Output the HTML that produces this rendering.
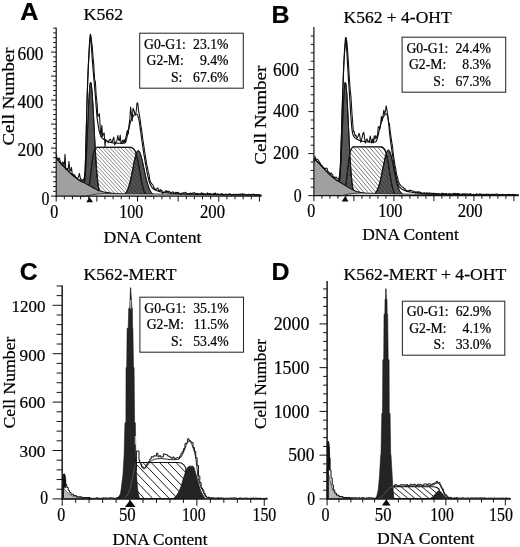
<!DOCTYPE html>
<html><head><meta charset="utf-8"><title>DNA content histograms</title>
<style>html,body{margin:0;padding:0;background:#fff;}svg{display:block;will-change:transform;}</style></head><body>
<svg width="520" height="547" viewBox="0 0 520 547">
<rect width="520" height="547" fill="#fff"/>
<defs>
</defs>
<path d="M70.6 195.6 L71.1 195.6 L71.6 195.6 L72.1 195.6 L72.6 195.6 L73.1 195.6 L73.6 195.6 L74.1 195.6 L74.6 195.6 L75.1 195.6 L75.6 195.6 L76.1 195.6 L76.6 195.6 L77.1 195.6 L77.6 195.6 L78.1 195.59 L78.6 195.58 L79.1 195.56 L79.6 195.51 L80.1 195.44 L80.6 195.3 L81.1 195.07 L81.6 194.68 L82.1 194.05 L82.6 193.07 L83.1 191.59 L83.6 189.44 L84.1 186.39 L84.6 182.25 L85.1 176.81 L85.6 169.93 L86.1 161.55 L86.6 151.76 L87.1 140.81 L87.6 129.13 L88.1 117.33 L88.6 106.12 L89.1 96.31 L89.6 88.65 L90.1 83.77 L90.6 82.1 L91.1 83.25 L91.6 86.64 L92.1 92.06 L92.6 99.2 L93.1 107.66 L93.6 116.99 L94.1 126.76 L94.6 136.53 L95.1 145.94 L95.6 154.69 L96.1 162.58 L96.6 169.49 L97.1 175.37 L97.6 180.24 L98.1 184.17 L98.6 187.27 L99.1 189.65 L99.6 191.44 L100.1 192.75 L100.6 193.68 L101.1 194.34 L101.6 194.79 L102.1 195.09 L102.6 195.28 L103.1 195.41 L103.6 195.49 L104.1 195.53 L104.6 195.56 L105.1 195.58 L105.6 195.59 L106.1 195.59 L106.6 195.6 L107.1 195.6 L107.6 195.6 L108.1 195.6 L108.6 195.6 L109.1 195.6 L109.6 195.6 L110.1 195.6 L110.6 195.6 L110.6 195.6 L70.6 195.6 Z" fill="#525252" stroke="#161616" stroke-width="1" stroke-linejoin="round"/>
<path d="M118.2 195.56 L118.7 195.55 L119.2 195.53 L119.7 195.5 L120.2 195.46 L120.7 195.41 L121.2 195.34 L121.7 195.25 L122.2 195.13 L122.7 194.97 L123.2 194.78 L123.7 194.53 L124.2 194.23 L124.7 193.84 L125.2 193.38 L125.7 192.81 L126.2 192.13 L126.7 191.33 L127.2 190.38 L127.7 189.28 L128.2 188.01 L128.7 186.57 L129.2 184.96 L129.7 183.16 L130.2 181.2 L130.7 179.07 L131.2 176.79 L131.7 174.39 L132.2 171.89 L132.7 169.34 L133.2 166.76 L133.7 164.22 L134.2 161.75 L134.7 159.42 L135.2 157.26 L135.7 155.34 L136.2 153.69 L136.7 152.37 L137.2 151.39 L137.7 150.8 L138.2 150.6 L138.7 150.77 L139.2 151.29 L139.7 152.13 L140.2 153.29 L140.7 154.73 L141.2 156.42 L141.7 158.33 L142.2 160.42 L142.7 162.65 L143.2 164.97 L143.7 167.35 L144.2 169.74 L144.7 172.11 L145.2 174.43 L145.7 176.67 L146.2 178.79 L146.7 180.8 L147.2 182.66 L147.7 184.38 L148.2 185.94 L148.7 187.35 L149.2 188.61 L149.7 189.72 L150.2 190.69 L150.7 191.54 L151.2 192.26 L151.7 192.88 L152.2 193.4 L152.7 193.83 L153.2 194.19 L153.7 194.48 L154.2 194.72 L154.7 194.92 L155.2 195.07 L155.7 195.2 L156.2 195.29 L156.7 195.37 L157.2 195.43 L157.7 195.47 L158.2 195.5 L158.2 195.6 L118.2 195.6 Z" fill="#525252" stroke="#161616" stroke-width="1" stroke-linejoin="round"/>
<path d="M81 196.1 L81.5 196.1 L82 196.1 L82.5 196.1 L83 196.09 L83.5 196.08 L84 196.06 L84.5 196.02 L85 195.94 L85.5 195.8 L86 195.54 L86.5 195.11 L87 194.42 L87.5 193.39 L88 191.9 L88.5 189.88 L89 187.27 L89.5 184.06 L90 180.32 L90.5 176.17 L91 171.8 L91.5 167.43 L92 163.28 L92.5 159.54 L93 156.33 L93.5 153.72 L94 151.7 L94.5 150.21 L95 149.18 L95.5 148.49 L96 148.06 L96.5 147.8 L97 147.66 L97.5 147.58 L98 147.54 L98.5 147.52 L99 147.51 L99.5 147.5 L100 147.5 L100.5 147.5 L101 147.5 L101.5 147.5 L102 147.5 L102.5 147.5 L103 147.5 L103.5 147.5 L104 147.5 L104.5 147.5 L105 147.5 L105.5 147.5 L106 147.5 L106.5 147.5 L107 147.5 L107.5 147.5 L108 147.5 L108.5 147.5 L109 147.5 L109.5 147.5 L110 147.5 L110.5 147.5 L111 147.5 L111.5 147.5 L112 147.5 L112.5 147.5 L113 147.5 L113.5 147.5 L114 147.5 L114.5 147.5 L115 147.5 L115.5 147.5 L116 147.5 L116.5 147.5 L117 147.5 L117.5 147.5 L118 147.5 L118.5 147.5 L119 147.5 L119.5 147.5 L120 147.5 L120.5 147.5 L121 147.5 L121.5 147.5 L122 147.5 L122.5 147.5 L123 147.5 L123.5 147.5 L124 147.5 L124.5 147.5 L125 147.5 L125.5 147.5 L126 147.5 L126.5 147.5 L127 147.5 L127.5 147.5 L128 147.51 L128.5 147.51 L129 147.53 L129.5 147.54 L130 147.57 L130.5 147.62 L131 147.69 L131.5 147.79 L132 147.94 L132.5 148.16 L133 148.46 L133.5 148.87 L134 149.42 L134.5 150.13 L135 151.04 L135.5 152.18 L136 153.56 L136.5 155.21 L137 157.13 L137.5 159.31 L138 161.73 L138.5 164.36 L139 167.15 L139.5 170.04 L140 172.97 L140.5 175.88 L141 178.7 L141.5 181.36 L142 183.83 L142.5 186.06 L143 188.03 L143.5 189.73 L144 191.16 L144.5 192.35 L145 193.3 L145.5 194.06 L146 194.64 L146.5 195.07 L147 195.39 L147.5 195.62 L148 195.79 L148.5 195.9 L149 195.97 L149.5 196.02 L150 196.05 L150.5 196.07 L151 196.08 L151.5 196.09 L151.5 196.09 L151 196.08 L150.5 196.07 L150 196.05 L149.5 196.02 L149 195.97 L148.5 195.9 L148 195.79 L147.5 195.62 L147 195.39 L146.5 195.07 L146 194.64 L145.5 194.06 L145 193.3 L144.5 192.35 L144 191.16 L143.5 189.73 L143 188.03 L142.5 186.06 L142 183.83 L141.5 181.36 L141 178.7 L140.5 175.88 L140 172.97 L139.5 170.04 L139 167.15 L138.5 164.36 L138 161.73 L137.5 159.31 L137 157.13 L136.5 155.21 L136 154.81 L135.5 156.58 L135 158.6 L134.5 160.83 L134 163.23 L133.5 165.73 L133 168.29 L132.5 170.86 L132 173.4 L131.5 175.86 L131 178.22 L130.5 180.44 L130 182.5 L129.5 184.4 L129 186.13 L128.5 187.67 L128 189.04 L127.5 190.24 L127 191.27 L126.5 192.16 L126 192.92 L125.5 193.55 L125 194.08 L124.5 194.51 L124 194.6 L123.5 194.6 L123 194.6 L122.5 194.6 L122 194.6 L121.5 194.6 L121 194.6 L120.5 194.6 L120 194.6 L119.5 194.6 L119 194.6 L118.5 194.6 L118 194.6 L117.5 194.6 L117 194.6 L116.5 194.6 L116 194.6 L115.5 194.6 L115 194.6 L114.5 194.6 L114 194.6 L113.5 194.6 L113 194.6 L112.5 194.6 L112 194.6 L111.5 194.6 L111 194.6 L110.5 194.6 L110 194.6 L109.5 194.6 L109 194.6 L108.5 194.6 L108 194.6 L107.5 194.6 L107 194.6 L106.5 194.6 L106 194.6 L105.5 194.6 L105 194.6 L104.5 194.6 L104 194.6 L103.5 194.6 L103 194.6 L102.5 194.6 L102 194.6 L101.5 194.6 L101 194.6 L100.5 194.02 L100 193.02 L99.5 191.62 L99 189.73 L98.5 187.21 L98 183.96 L97.5 179.84 L97 174.77 L96.5 168.69 L96 161.58 L95.5 153.5 L95 149.18 L94.5 150.21 L94 151.7 L93.5 153.72 L93 156.33 L92.5 159.54 L92 163.28 L91.5 167.43 L91 171.8 L90.5 176.17 L90 180.32 L89.5 184.06 L89 187.27 L88.5 189.88 L88 191.9 L87.5 193.39 L87 194.42 L86.5 195.11 L86 195.54 L85.5 195.8 L85 195.94 L84.5 196.02 L84 196.06 L83.5 196.08 L83 196.09 L82.5 196.1 L82 196.1 L81.5 196.1 L81 196.1 Z" fill="#fff" stroke="#111" stroke-width="1.15" stroke-linejoin="round"/>
<clipPath id="cp1"><path d="M81 195.6 L81.5 195.6 L82 195.6 L82.5 195.6 L83 195.59 L83.5 195.58 L84 195.56 L84.5 195.52 L85 195.44 L85.5 195.3 L86 195.04 L86.5 194.61 L87 193.92 L87.5 192.89 L88 191.4 L88.5 189.38 L89 186.77 L89.5 183.56 L90 179.82 L90.5 175.67 L91 171.3 L91.5 166.93 L92 162.78 L92.5 159.04 L93 155.83 L93.5 153.22 L94 151.2 L94.5 149.71 L95 148.68 L95.5 147.99 L96 147.56 L96.5 147.3 L97 147.16 L97.5 147.08 L98 147.04 L98.5 147.02 L99 147.01 L99.5 147 L100 147 L100.5 147 L101 147 L101.5 147 L102 147 L102.5 147 L103 147 L103.5 147 L104 147 L104.5 147 L105 147 L105.5 147 L106 147 L106.5 147 L107 147 L107.5 147 L108 147 L108.5 147 L109 147 L109.5 147 L110 147 L110.5 147 L111 147 L111.5 147 L112 147 L112.5 147 L113 147 L113.5 147 L114 147 L114.5 147 L115 147 L115.5 147 L116 147 L116.5 147 L117 147 L117.5 147 L118 147 L118.5 147 L119 147 L119.5 147 L120 147 L120.5 147 L121 147 L121.5 147 L122 147 L122.5 147 L123 147 L123.5 147 L124 147 L124.5 147 L125 147 L125.5 147 L126 147 L126.5 147 L127 147 L127.5 147 L128 147.01 L128.5 147.01 L129 147.03 L129.5 147.04 L130 147.07 L130.5 147.12 L131 147.19 L131.5 147.29 L132 147.44 L132.5 147.66 L133 147.96 L133.5 148.37 L134 148.92 L134.5 149.63 L135 150.54 L135.5 151.68 L136 153.06 L136.5 154.71 L137 156.63 L137.5 158.81 L138 161.23 L138.5 163.86 L139 166.65 L139.5 169.54 L140 172.47 L140.5 175.38 L141 178.2 L141.5 180.86 L142 183.33 L142.5 185.56 L143 187.53 L143.5 189.23 L144 190.66 L144.5 191.85 L145 192.8 L145.5 193.56 L146 194.14 L146.5 194.57 L147 194.89 L147.5 195.12 L148 195.29 L148.5 195.4 L149 195.47 L149.5 195.52 L150 195.55 L150.5 195.57 L151 195.58 L151.5 195.59 L151.5 195.6 L81 195.6 Z"/></clipPath>
<path d="M118.13 108.3L179.19 174.7M116.12 110.15L177.18 176.54M114.11 112L175.17 178.39M112.1 113.84L173.16 180.24M110.09 115.69L171.15 182.09M108.08 117.54L169.14 183.94M106.07 119.39L167.13 185.78M104.06 121.24L165.12 187.63M102.06 123.08L163.11 189.48M100.05 124.93L161.1 191.33M98.04 126.78L159.09 193.18M96.03 128.63L157.08 195.02M94.02 130.48L155.07 196.87M92.01 132.32L153.06 198.72M90 134.17L151.05 200.57M87.99 136.02L149.04 202.41M85.98 137.87L147.03 204.26M83.97 139.71L145.02 206.11M81.96 141.56L143.01 207.96M79.95 143.41L141 209.81M77.94 145.26L138.99 211.65M75.93 147.11L136.99 213.5M73.92 148.95L134.98 215.35M71.91 150.8L132.97 217.2M69.9 152.65L130.96 219.05M67.89 154.5L128.95 220.89M65.88 156.35L126.94 222.74M63.87 158.19L124.93 224.59M61.86 160.04L122.92 226.44M59.85 161.89L120.91 228.28M57.85 163.74L118.9 230.13M55.84 165.58L116.89 231.98" clip-path="url(#cp1)" stroke="#262626" stroke-width="0.56" fill="none"/>
<path d="M81 195.6 L81.5 195.6 L82 195.6 L82.5 195.6 L83 195.59 L83.5 195.58 L84 195.56 L84.5 195.52 L85 195.44 L85.5 195.3 L86 195.04 L86.5 194.61 L87 193.92 L87.5 192.89 L88 191.4 L88.5 189.38 L89 186.77 L89.5 183.56 L90 179.82 L90.5 175.67 L91 171.3 L91.5 166.93 L92 162.78 L92.5 159.04 L93 155.83 L93.5 153.22 L94 151.2 L94.5 149.71 L95 148.68 L95.5 147.99 L96 147.56 L96.5 147.3 L97 147.16 L97.5 147.08 L98 147.04 L98.5 147.02 L99 147.01 L99.5 147 L100 147 L100.5 147 L101 147 L101.5 147 L102 147 L102.5 147 L103 147 L103.5 147 L104 147 L104.5 147 L105 147 L105.5 147 L106 147 L106.5 147 L107 147 L107.5 147 L108 147 L108.5 147 L109 147 L109.5 147 L110 147 L110.5 147 L111 147 L111.5 147 L112 147 L112.5 147 L113 147 L113.5 147 L114 147 L114.5 147 L115 147 L115.5 147 L116 147 L116.5 147 L117 147 L117.5 147 L118 147 L118.5 147 L119 147 L119.5 147 L120 147 L120.5 147 L121 147 L121.5 147 L122 147 L122.5 147 L123 147 L123.5 147 L124 147 L124.5 147 L125 147 L125.5 147 L126 147 L126.5 147 L127 147 L127.5 147 L128 147.01 L128.5 147.01 L129 147.03 L129.5 147.04 L130 147.07 L130.5 147.12 L131 147.19 L131.5 147.29 L132 147.44 L132.5 147.66 L133 147.96 L133.5 148.37 L134 148.92 L134.5 149.63 L135 150.54 L135.5 151.68 L136 153.06 L136.5 154.71 L137 156.63 L137.5 158.81 L138 161.23 L138.5 163.86 L139 166.65 L139.5 169.54 L140 172.47 L140.5 175.38 L141 178.2 L141.5 180.86 L142 183.33 L142.5 185.56 L143 187.53 L143.5 189.23 L144 190.66 L144.5 191.85 L145 192.8 L145.5 193.56 L146 194.14 L146.5 194.57 L147 194.89 L147.5 195.12 L148 195.29 L148.5 195.4 L149 195.47 L149.5 195.52 L150 195.55 L150.5 195.57 L151 195.58 L151.5 195.59 L151.5 195.6 L81 195.6 Z" fill="none" stroke="#1c1c1c" stroke-width="0.9"/>
<path d="M70.6 195.6 L71.1 195.6 L71.6 195.6 L72.1 195.6 L72.6 195.6 L73.1 195.6 L73.6 195.6 L74.1 195.6 L74.6 195.6 L75.1 195.6 L75.6 195.6 L76.1 195.6 L76.6 195.6 L77.1 195.6 L77.6 195.6 L78.1 195.59 L78.6 195.58 L79.1 195.56 L79.6 195.51 L80.1 195.44 L80.6 195.3 L81.1 195.07 L81.6 194.68 L82.1 194.05 L82.6 193.07 L83.1 191.59 L83.6 189.44 L84.1 186.39 L84.6 182.25 L85.1 176.81 L85.6 169.93 L86.1 161.55 L86.6 151.76 L87.1 140.81 L87.6 129.13 L88.1 117.33 L88.6 106.12 L89.1 96.31 L89.6 88.65 L90.1 83.77 L90.6 82.1 L91.1 83.25 L91.6 86.64 L92.1 92.06 L92.6 99.2 L93.1 107.66 L93.6 116.99 L94.1 126.76 L94.6 136.53 L95.1 145.94 L95.6 154.69 L96.1 162.58 L96.6 169.49 L97.1 175.37 L97.6 180.24 L98.1 184.17 L98.6 187.27 L99.1 189.65 L99.6 191.44 L100.1 192.75 L100.6 193.68 L101.1 194.34 L101.6 194.79 L102.1 195.09 L102.6 195.28 L103.1 195.41 L103.6 195.49 L104.1 195.53 L104.6 195.56 L105.1 195.58 L105.6 195.59 L106.1 195.59 L106.6 195.6 L107.1 195.6 L107.6 195.6 L108.1 195.6 L108.6 195.6 L109.1 195.6 L109.6 195.6 L110.1 195.6 L110.6 195.6" fill="none" stroke="#161616" stroke-width="1"/>
<path d="M118.2 195.56 L118.7 195.55 L119.2 195.53 L119.7 195.5 L120.2 195.46 L120.7 195.41 L121.2 195.34 L121.7 195.25 L122.2 195.13 L122.7 194.97 L123.2 194.78 L123.7 194.53 L124.2 194.23 L124.7 193.84 L125.2 193.38 L125.7 192.81 L126.2 192.13 L126.7 191.33 L127.2 190.38 L127.7 189.28 L128.2 188.01 L128.7 186.57 L129.2 184.96 L129.7 183.16 L130.2 181.2 L130.7 179.07 L131.2 176.79 L131.7 174.39 L132.2 171.89 L132.7 169.34 L133.2 166.76 L133.7 164.22 L134.2 161.75 L134.7 159.42 L135.2 157.26 L135.7 155.34 L136.2 153.69 L136.7 152.37 L137.2 151.39 L137.7 150.8 L138.2 150.6 L138.7 150.77 L139.2 151.29 L139.7 152.13 L140.2 153.29 L140.7 154.73 L141.2 156.42 L141.7 158.33 L142.2 160.42 L142.7 162.65 L143.2 164.97 L143.7 167.35 L144.2 169.74 L144.7 172.11 L145.2 174.43 L145.7 176.67 L146.2 178.79 L146.7 180.8 L147.2 182.66 L147.7 184.38 L148.2 185.94 L148.7 187.35 L149.2 188.61 L149.7 189.72 L150.2 190.69 L150.7 191.54 L151.2 192.26 L151.7 192.88 L152.2 193.4 L152.7 193.83 L153.2 194.19 L153.7 194.48 L154.2 194.72 L154.7 194.92 L155.2 195.07 L155.7 195.2 L156.2 195.29 L156.7 195.37 L157.2 195.43 L157.7 195.47 L158.2 195.5" fill="none" stroke="#161616" stroke-width="1"/>
<path d="M56.2 157.5 L57.2 158.77 L58.2 160.04 L59.2 161.31 L60.2 162.58 L61.2 163.8 L62.2 164.8 L63.2 165.8 L64.2 166.8 L65.2 167.8 L66.2 168.8 L67.2 169.8 L68.2 170.8 L69.2 171.8 L70.2 172.8 L71.2 173.8 L72.2 174.74 L73.2 175.54 L74.2 176.34 L75.2 177.14 L76.2 177.94 L77.2 178.74 L78.2 179.38 L79.2 179.98 L80.2 180.58 L81.2 181.18 L82.2 181.78 L83.2 182.35 L84.2 182.86 L85.2 183.37 L86.2 183.88 L87.2 184.39 L88.2 184.9 L89.2 185.47 L90.2 186.05 L91.2 186.63 L92.2 187.21 L93.2 187.79 L94.2 188.35 L95.2 188.87 L96.2 189.38 L97.2 189.89 L98.2 190.4 L99.2 190.68 L100.2 190.95 L101.2 191.23 L102.2 191.5 L103.2 191.78 L104.2 192.03 L105.2 192.19 L106.2 192.35 L107.2 192.5 L108.2 192.66 L109.2 192.82 L110.2 192.97 L111.2 193.12 L112.2 193.22 L113.2 193.32 L114.2 193.42 L115.2 193.52 L116.2 193.62 L117.2 193.72 L118.2 193.81 L119.2 193.89 L120.2 193.96 L121.2 194.03 L122.2 194.1 L123.2 194.17 L124.2 194.24 L125.2 194.32 L126.2 194.42 L127.2 194.52 L128.2 194.62 L129.2 194.72 L130.2 194.82 L131.2 194.92 L132.2 195.03 L133.2 195.16 L134.2 195.3 L135.2 195.44 L136.2 195.58 L137.2 195.72 L138.2 195.85 L139.2 195.99 L139.2 196.1 L56.2 196.1 Z" fill="#a0a0a0" stroke="none"/>
<path d="M56.2 157.5 L57.2 158.77 L58.2 160.04 L59.2 161.31 L60.2 162.58 L61.2 163.8 L62.2 164.8 L63.2 165.8 L64.2 166.8 L65.2 167.8 L66.2 168.8 L67.2 169.8 L68.2 170.8 L69.2 171.8 L70.2 172.8 L71.2 173.8 L72.2 174.74 L73.2 175.54 L74.2 176.34 L75.2 177.14 L76.2 177.94 L77.2 178.74 L78.2 179.38 L79.2 179.98 L80.2 180.58 L81.2 181.18 L82.2 181.78 L83.2 182.35 L84.2 182.86 L85.2 183.37 L86.2 183.88 L87.2 184.39 L88.2 184.9 L89.2 185.47 L90.2 186.05 L91.2 186.63 L92.2 187.21 L93.2 187.79 L94.2 188.35 L95.2 188.87 L96.2 189.38 L97.2 189.89 L98.2 190.4 L99.2 190.68 L100.2 190.95 L101.2 191.23 L102.2 191.5 L103.2 191.78 L104.2 192.03 L105.2 192.19 L106.2 192.35 L107.2 192.5 L108.2 192.66 L109.2 192.82 L110.2 192.97 L111.2 193.12 L112.2 193.22 L113.2 193.32 L114.2 193.42 L115.2 193.52 L116.2 193.62 L117.2 193.72 L118.2 193.81 L119.2 193.89 L120.2 193.96 L121.2 194.03 L122.2 194.1 L123.2 194.17 L124.2 194.24 L125.2 194.32 L126.2 194.42 L127.2 194.52 L128.2 194.62 L129.2 194.72 L130.2 194.82 L131.2 194.92 L132.2 195.03 L133.2 195.16 L134.2 195.3 L135.2 195.44 L136.2 195.58 L137.2 195.72 L138.2 195.85 L139.2 195.99" fill="none" stroke="#111" stroke-width="1.1"/>
<path d="M86 196.1 L87 195.93 L88 195.77 L89 195.6 L90 195.35 L91 195.1 L92 194.85 L93 194.6 L94 194.46 L95 194.32 L96 194.18 L97 194.04 L98 193.9 L99 193.85 L100 193.8 L101 193.75 L102 193.7 L103 193.65 L104 193.6 L105 193.61 L106 193.62 L107 193.63 L108 193.64 L109 193.65 L110 193.66 L111 193.67 L112 193.68 L113 193.69 L114 193.7 L115 193.7 L116 193.71 L117 193.72 L118 193.73 L119 193.74 L120 193.75 L121 193.76 L122 193.77 L123 193.78 L124 193.79 L125 193.8 L126 193.81 L127 193.81 L128 193.82 L129 193.82 L130 193.83 L131 193.83 L132 193.84 L133 193.85 L134 193.85 L135 193.86 L136 193.86 L137 193.87 L138 193.87 L139 193.88 L140 193.89 L141 193.89 L142 193.9 L143 193.9 L144 193.91 L145 193.91 L146 193.92 L147 193.93 L148 193.93 L149 193.94 L150 193.94 L151 193.95 L152 193.95 L153 193.96 L154 193.97 L155 193.97 L156 193.98 L157 193.98 L158 193.99 L159 193.99 L160 194 L161 194.01 L162 194.03 L163 194.04 L164 194.06 L165 194.07 L166 194.09 L167 194.1 L168 194.12 L169 194.13 L170 194.15 L171 194.16 L172 194.18 L173 194.19 L174 194.21 L175 194.22 L176 194.24 L177 194.25 L178 194.27 L179 194.28 L180 194.3 L181 194.31 L182 194.33 L183 194.34 L184 194.36 L185 194.38 L186 194.39 L187 194.41 L188 194.42 L189 194.44 L190 194.45 L191 194.47 L192 194.48 L193 194.5 L194 194.51 L195 194.53 L196 194.54 L197 194.56 L198 194.57 L199 194.59 L200 194.6 L201 194.61 L202 194.62 L203 194.63 L204 194.64 L205 194.65 L206 194.66 L207 194.67 L208 194.68 L209 194.69 L210 194.7 L211 194.71 L212 194.72 L213 194.73 L214 194.74 L215 194.75 L216 194.75 L217 194.76 L218 194.77 L219 194.78 L220 194.79 L221 194.8 L222 194.81 L223 194.82 L224 194.83 L225 194.84 L226 194.85 L227 194.86 L228 194.87 L229 194.88 L230 194.89 L231 194.9 L232 194.91 L233 194.92 L234 194.93 L235 194.94 L236 194.95 L237 194.96 L238 194.97 L239 194.98 L240 194.99 L241 195 L242 195.01 L243 195.02 L244 195.03 L245 195.04 L246 195.05 L247 195.05 L248 195.06 L249 195.07 L250 195.08 L251 195.09 L252 195.1 L253 195.11 L254 195.12 L255 195.13 L256 195.14 L257 195.15 L258 195.16 L259 195.17 L260 195.18 L261 195.19 L262 195.2 L262 196.1 L86 196.1 Z" fill="#d4d4d4" stroke="none"/>
<path d="M86 196.1 L87 195.93 L88 195.77 L89 195.6 L90 195.35 L91 195.1 L92 194.85 L93 194.6 L94 194.46 L95 194.32 L96 194.18 L97 194.04 L98 193.9 L99 193.85 L100 193.8 L101 193.75 L102 193.7 L103 193.65 L104 193.6 L105 193.61 L106 193.62 L107 193.63 L108 193.64 L109 193.65 L110 193.66 L111 193.67 L112 193.68 L113 193.69 L114 193.7 L115 193.7 L116 193.71 L117 193.72 L118 193.73 L119 193.74 L120 193.75 L121 193.76 L122 193.77 L123 193.78 L124 193.79 L125 193.8 L126 193.81 L127 193.81 L128 193.82 L129 193.82 L130 193.83 L131 193.83 L132 193.84 L133 193.85 L134 193.85 L135 193.86 L136 193.86 L137 193.87 L138 193.87 L139 193.88 L140 193.89 L141 193.89 L142 193.9 L143 193.9 L144 193.91 L145 193.91 L146 193.92 L147 193.93 L148 193.93 L149 193.94 L150 193.94 L151 193.95 L152 193.95 L153 193.96 L154 193.97 L155 193.97 L156 193.98 L157 193.98 L158 193.99 L159 193.99 L160 194 L161 194.01 L162 194.03 L163 194.04 L164 194.06 L165 194.07 L166 194.09 L167 194.1 L168 194.12 L169 194.13 L170 194.15 L171 194.16 L172 194.18 L173 194.19 L174 194.21 L175 194.22 L176 194.24 L177 194.25 L178 194.27 L179 194.28 L180 194.3 L181 194.31 L182 194.33 L183 194.34 L184 194.36 L185 194.38 L186 194.39 L187 194.41 L188 194.42 L189 194.44 L190 194.45 L191 194.47 L192 194.48 L193 194.5 L194 194.51 L195 194.53 L196 194.54 L197 194.56 L198 194.57 L199 194.59 L200 194.6 L201 194.61 L202 194.62 L203 194.63 L204 194.64 L205 194.65 L206 194.66 L207 194.67 L208 194.68 L209 194.69 L210 194.7 L211 194.71 L212 194.72 L213 194.73 L214 194.74 L215 194.75 L216 194.75 L217 194.76 L218 194.77 L219 194.78 L220 194.79 L221 194.8 L222 194.81 L223 194.82 L224 194.83 L225 194.84 L226 194.85 L227 194.86 L228 194.87 L229 194.88 L230 194.89 L231 194.9 L232 194.91 L233 194.92 L234 194.93 L235 194.94 L236 194.95 L237 194.96 L238 194.97 L239 194.98 L240 194.99 L241 195 L242 195.01 L243 195.02 L244 195.03 L245 195.04 L246 195.05 L247 195.05 L248 195.06 L249 195.07 L250 195.08 L251 195.09 L252 195.1 L253 195.11 L254 195.12 L255 195.13 L256 195.14 L257 195.15 L258 195.16 L259 195.17 L260 195.18 L261 195.19 L262 195.2" fill="none" stroke="#222" stroke-width="0.8"/>
<path d="M56.2 157.5 C57 158.52 59.3 161.68 61 163.6 C62.7 165.52 64.58 167.18 66.4 169 C68.22 170.82 70.07 172.85 71.9 174.5 C73.73 176.15 75.72 177.7 77.4 178.9 C79.08 180.1 80.9 181.52 82 181.7 C83.1 181.88 83.47 181.95 84 180 C84.53 178.05 84.82 178.33 85.2 170 C85.58 161.67 85.97 142.5 86.3 130 C86.63 117.5 86.82 106.67 87.2 95 C87.58 83.33 88.08 70.08 88.6 60 C89.12 49.92 89.8 36.17 90.3 34.5 C90.8 32.83 91.15 44.25 91.6 50 C92.05 55.75 92.6 64 93 69 C93.4 74 93.58 75.17 94 80 C94.42 84.83 95 91.9 95.5 98 C96 104.1 96.58 112.27 97 116.6 C97.42 120.93 97.63 121.57 98 124 C98.37 126.43 98.78 129.37 99.2 131.2 C99.62 133.03 100.02 133.9 100.5 135 C100.98 136.1 101.52 137.05 102.1 137.8 C102.68 138.55 103.27 139 104 139.5 C104.73 140 105.23 140.25 106.5 140.8 C107.77 141.35 109.68 142.4 111.6 142.8 C113.52 143.2 115.8 143.17 118 143.2 C120.2 143.23 123.38 143.7 124.8 143 C126.22 142.3 126.02 140.47 126.5 139 C126.98 137.53 127.13 136.7 127.7 134.2 C128.27 131.7 129.27 126.45 129.9 124 C130.53 121.55 130.97 120.75 131.5 119.5 C132.03 118.25 132.43 117.37 133.1 116.5 C133.77 115.63 134.82 114.63 135.5 114.3 C136.18 113.97 136.65 113.72 137.2 114.5 C137.75 115.28 138.23 116.25 138.8 119 C139.37 121.75 139.85 125.77 140.6 131 C141.35 136.23 142.28 143.82 143.3 150.4 C144.32 156.98 145.78 165.57 146.7 170.5 C147.62 175.43 148.17 177.58 148.8 180 C149.43 182.42 149.77 183.53 150.5 185 C151.23 186.47 152.07 187.83 153.2 188.8 C154.33 189.77 155.78 190.22 157.3 190.8 C158.82 191.38 160.12 191.92 162.3 192.3 C164.48 192.68 167.45 192.87 170.4 193.1 C173.35 193.33 171.73 193.45 180 193.7 C188.27 193.95 206.5 194.37 220 194.6 C233.5 194.83 254.17 195.02 261 195.1" fill="none" stroke="#0e0e0e" stroke-width="1.15" stroke-linejoin="round"/>
<path d="M56.2 153.94 L57 157.91 L57.8 160.03 L58.6 158.35 L59.4 157.96 L60.2 161.19 L61 163.13 L61.8 164.96 L62.6 161.92 L63.4 162.62 L64.2 166.67 L65 154.3 L65.8 169.54 L66.6 169.46 L67.4 168.59 L68.2 169.14 L69 161.4 L69.8 170.74 L70.6 170.85 L71.4 167.4 L72.2 173.64 L73 174.35 L73.8 174.34 L74.6 175.36 L75.4 176.43 L76.2 177.6 L77 178.73 L77.8 178.19 L78.6 176.27 L79.4 173.4 L80.2 177.8 L81 179.99 L81.8 179.25 L82.6 180.77 L83.4 179.8 L84.2 178.43 L85 172.21 L85.8 148.17 L86.6 118.58 L87.4 89.55 L88.2 69.89 L89 54.26 L89.8 41.96 L90.6 35.01 L91.4 40.15 L92.2 45.85 L93 56.17 L93.8 64.92 L94.6 79.34 L95.4 81.66 L96.2 95.69 L97 102.28 L97.8 116.44 L98.6 115.7 L99.4 113.7 L100.2 127.89 L101 136.85 L101.8 125.4 L102.6 136.37 L103.4 133.84 L104.2 133.04 L105 146.46 L105.8 139.4 L106.6 141.06 L107.4 141.36 L108.2 142.75 L109 140.26 L109.8 139.33 L110.6 139.35 L111.4 142.11 L112.2 142.11 L113 139.16 L113.8 137.16 L114.6 144.83 L115.4 143.45 L116.2 141.46 L117 140.54 L117.8 135.6 L118.6 139.89 L119.4 140.64 L120.2 134.95 L121 143.64 L121.8 142.76 L122.6 140.26 L123.4 142.41 L124.2 139.61 L125 142.74 L125.8 137.8 L126.6 133.58 L127.4 130.25 L128.2 133.9 L129 125.19 L129.8 119.82 L130.6 107.1 L131.4 114.13 L132.2 120.92 L133 108.17 L133.8 110 L134.6 112.64 L135.4 114.96 L136.2 111.41 L137 103 L137.8 102.93 L138.6 110.83 L139.4 114.79 L140.2 119.99 L141 126.47 L141.8 130.76 L142.6 137.98 L143.4 142.88 L144.2 148.21 L145 153.48 L145.8 158.55 L146.6 163.69 L147.4 167.27 L148.2 171.43 L149 174.29 L149.8 179.84 L150.6 182.14 L151.4 183.44 L152.2 184.42 L153 185.14 L153.8 187.46 L154.6 188.05 L155.4 190.1 L156.2 189.03 L157 188.7 L157.8 187.88 L158.6 191.07 L159.4 190.47 L160.2 189.51 L161 191.03 L161.8 190.12 L162.6 193.64 L163.4 192.23 L164.2 191.99 L165 191.63 L165.8 190.53 L166.6 191.89 L167.4 191.15 L168.2 192.56 L169 191.05 L169.8 191.9 L170.6 193.22 L171.4 193.51 L172.2 191.95 L173 191.81 L173.8 193.22 L174.6 193.25 L175.4 192.29 L176.2 192.5 L177 192.56 L177.8 192.35 L178.6 192.68 L179.4 193.75 L180.2 193.5 L181 194.23 L181.8 193.13 L182.6 193.13 L183.4 192.71 L184.2 193.18 L185 192.59 L185.8 192.37 L186.6 193.66 L187.4 194.06 L188.2 193.77 L189 194.04 L189.8 193.51 L190.6 193.05 L191.4 193.47 L192.2 193.26 L193 192.92 L193.8 192.65 L194.6 192.78 L195.4 193.53 L196.2 193.62 L197 193.34 L197.8 194.29 L198.6 193.7 L199.4 193.91 L200.2 194.24 L201 193.28 L201.8 192.76 L202.6 194.07 L203.4 193.41 L204.2 194.37 L205 193.94 L205.8 194.27 L206.6 194.17 L207.4 192.88 L208.2 194.19 L209 193.57 L209.8 193.56 L210.6 193.72 L211.4 194.29 L212.2 194.36 L213 194.44 L213.8 193.27 L214.6 193.76 L215.4 193 L216.2 194.02 L217 194.35 L217.8 193.78 L218.6 194.23 L219.4 194.25 L220.2 194.6 L221 193.83 L221.8 193.84 L222.6 193.88 L223.4 194.96 L224.2 194.69 L225 194.19 L225.8 194.35 L226.6 194.32 L227.4 194.36 L228.2 194.2 L229 194.17 L229.8 193.8 L230.6 194.06 L231.4 195.02 L232.2 194.57 L233 194.39 L233.8 194.29 L234.6 194.42 L235.4 194.55 L236.2 194.15 L237 194.51 L237.8 194.54 L238.6 194.15 L239.4 194.15 L240.2 194.08 L241 194.07 L241.8 194.86 L242.6 193.58 L243.4 194.42 L244.2 194.3 L245 194.31 L245.8 194.6 L246.6 195.02 L247.4 194.62 L248.2 194.55 L249 194.38 L249.8 194.58 L250.6 194.99 L251.4 194.5 L252.2 194.23 L253 194.2 L253.8 194.27 L254.6 194.18 L255.4 195.12 L256.2 194.86 L257 194.65 L257.8 195.29 L258.6 194.52 L259.4 195.05 L260.2 195.08" fill="none" stroke="#0e0e0e" stroke-width="1.05" stroke-linejoin="round"/>
<path d="M56.2 27.7 V196.7" stroke="#141414" stroke-width="1.2" fill="none"/>
<path d="M55.6 196.1 H261.5" stroke="#141414" stroke-width="1.2" fill="none"/>
<path d="M56.2 196.1H51M56.2 191.3H53.2M56.2 186.5H53.2M56.2 181.7H53.2M56.2 176.9H53.2M56.2 172.1H51M56.2 167.3H53.2M56.2 162.5H53.2M56.2 157.7H53.2M56.2 152.9H53.2M56.2 148.1H51M56.2 143.3H53.2M56.2 138.5H53.2M56.2 133.7H53.2M56.2 128.9H53.2M56.2 124.1H51M56.2 119.3H53.2M56.2 114.5H53.2M56.2 109.7H53.2M56.2 104.9H53.2M56.2 100.1H51M56.2 95.3H53.2M56.2 90.5H53.2M56.2 85.7H53.2M56.2 80.9H53.2M56.2 76.1H51M56.2 71.3H53.2M56.2 66.5H53.2M56.2 61.7H53.2M56.2 56.9H53.2M56.2 52.1H51M56.2 47.3H53.2M56.2 42.5H53.2M56.2 37.7H53.2M56.2 32.9H53.2M56.2 28.1H53.2" stroke="#141414" stroke-width="1.0" fill="none"/>
<path d="M56.2 196.1V201.6M64.33 196.1V199.3M72.46 196.1V199.3M80.59 196.1V199.3M88.72 196.1V199.3M96.85 196.1V201.6M104.98 196.1V199.3M113.11 196.1V199.3M121.24 196.1V199.3M129.37 196.1V199.3M137.5 196.1V201.6M145.63 196.1V199.3M153.76 196.1V199.3M161.89 196.1V199.3M170.02 196.1V199.3M178.15 196.1V201.6M186.28 196.1V199.3M194.41 196.1V199.3M202.54 196.1V199.3M210.67 196.1V199.3M218.8 196.1V201.6M226.93 196.1V199.3M235.06 196.1V199.3M243.19 196.1V199.3M251.32 196.1V199.3M259.45 196.1V201.6" stroke="#141414" stroke-width="1.0" fill="none"/>
<path d="M89.6 196.9 L86.2 202.2 L93 202.2 Z" fill="#0a0a0a"/>
<text x="20.3" y="19.7" font-family='"Liberation Sans", sans-serif' font-size="23.3" font-weight="bold" text-anchor="start" textLength="18.2" lengthAdjust="spacingAndGlyphs"  stroke="#000" stroke-width="0.22">A</text>
<text x="83.6" y="20.1" font-family='"Liberation Serif", serif' font-size="17.6" font-weight="normal" text-anchor="start" textLength="39.6" lengthAdjust="spacingAndGlyphs"  stroke="#000" stroke-width="0.22">K562</text>
<text x="43.5" y="59.8" font-family='"Liberation Serif", serif' font-size="17.9" font-weight="normal" text-anchor="end" textLength="26" lengthAdjust="spacingAndGlyphs"  stroke="#000" stroke-width="0.22">600</text>
<text x="43.5" y="107.8" font-family='"Liberation Serif", serif' font-size="17.9" font-weight="normal" text-anchor="end" textLength="26" lengthAdjust="spacingAndGlyphs"  stroke="#000" stroke-width="0.22">400</text>
<text x="43.5" y="155.8" font-family='"Liberation Serif", serif' font-size="17.9" font-weight="normal" text-anchor="end" textLength="26" lengthAdjust="spacingAndGlyphs"  stroke="#000" stroke-width="0.22">200</text>
<text x="49.3" y="205" font-family='"Liberation Serif", serif' font-size="17.9" font-weight="normal" text-anchor="end" textLength="7.9" lengthAdjust="spacingAndGlyphs"  stroke="#000" stroke-width="0.22">0</text>
<text x="54.3" y="217.5" font-family='"Liberation Serif", serif' font-size="17.9" font-weight="normal" text-anchor="middle" textLength="8" lengthAdjust="spacingAndGlyphs"  stroke="#000" stroke-width="0.22">0</text>
<text x="131.3" y="217.5" font-family='"Liberation Serif", serif' font-size="17.9" font-weight="normal" text-anchor="middle" textLength="24" lengthAdjust="spacingAndGlyphs"  stroke="#000" stroke-width="0.22">100</text>
<text x="212.5" y="217.5" font-family='"Liberation Serif", serif' font-size="17.9" font-weight="normal" text-anchor="middle" textLength="25" lengthAdjust="spacingAndGlyphs"  stroke="#000" stroke-width="0.22">200</text>
<text x="103.5" y="242.5" font-family='"Liberation Serif", serif' font-size="17.5" font-weight="normal" text-anchor="start" textLength="98" lengthAdjust="spacingAndGlyphs"  stroke="#000" stroke-width="0.22">DNA Content</text>
<text transform="translate(14.4 145.5) rotate(-90)" font-family='"Liberation Serif", serif' font-size="17.5" textLength="98" lengthAdjust="spacingAndGlyphs" stroke="#000" stroke-width="0.22">Cell Number</text>
<rect x="139.7" y="33.2" width="103.6" height="55" fill="#fff" stroke="#2a2a2a" stroke-width="1.05"/>
<text x="185.9" y="48.9" font-family='"Liberation Serif", serif' font-size="13.7" font-weight="normal" text-anchor="end"  stroke="#000" stroke-width="0.22">G0-G1:</text>
<text x="228.4" y="48.9" font-family='"Liberation Serif", serif' font-size="13.7" font-weight="normal" text-anchor="end"  stroke="#000" stroke-width="0.22">23.1%</text>
<text x="183.8" y="65.4" font-family='"Liberation Serif", serif' font-size="13.7" font-weight="normal" text-anchor="end"  stroke="#000" stroke-width="0.22">G2-M:</text>
<text x="228.4" y="65.4" font-family='"Liberation Serif", serif' font-size="13.7" font-weight="normal" text-anchor="end"  stroke="#000" stroke-width="0.22">9.4%</text>
<text x="182.3" y="81.8" font-family='"Liberation Serif", serif' font-size="13.7" font-weight="normal" text-anchor="end"  stroke="#000" stroke-width="0.22">S:</text>
<text x="228.4" y="81.8" font-family='"Liberation Serif", serif' font-size="13.7" font-weight="normal" text-anchor="end"  stroke="#000" stroke-width="0.22">67.6%</text>
<path d="M325.3 195.1 L325.8 195.1 L326.3 195.1 L326.8 195.1 L327.3 195.1 L327.8 195.1 L328.3 195.1 L328.8 195.1 L329.3 195.1 L329.8 195.1 L330.3 195.1 L330.8 195.1 L331.3 195.1 L331.8 195.1 L332.3 195.1 L332.8 195.09 L333.3 195.09 L333.8 195.08 L334.3 195.05 L334.8 195 L335.3 194.91 L335.8 194.74 L336.3 194.45 L336.8 193.97 L337.3 193.19 L337.8 191.97 L338.3 190.14 L338.8 187.46 L339.3 183.72 L339.8 178.69 L340.3 172.16 L340.8 164.04 L341.3 154.37 L341.8 143.36 L342.3 131.45 L342.8 119.25 L343.3 107.54 L343.8 97.21 L344.3 89.08 L344.8 83.89 L345.3 82.1 L345.8 83.47 L346.3 87.49 L346.8 93.86 L347.3 102.15 L347.8 111.82 L348.3 122.28 L348.8 132.97 L349.3 143.36 L349.8 153.06 L350.3 161.76 L350.8 169.3 L351.3 175.62 L351.8 180.74 L352.3 184.77 L352.8 187.85 L353.3 190.14 L353.8 191.78 L354.3 192.94 L354.8 193.72 L355.3 194.24 L355.8 194.58 L356.3 194.79 L356.8 194.92 L357.3 195 L357.8 195.05 L358.3 195.07 L358.8 195.08 L359.3 195.09 L359.8 195.1 L360.3 195.1 L360.8 195.1 L361.3 195.1 L361.8 195.1 L362.3 195.1 L362.8 195.1 L363.3 195.1 L363.8 195.1 L364.3 195.1 L364.8 195.1 L365.3 195.1 L365.3 195.1 L325.3 195.1 Z" fill="#565656" stroke="#161616" stroke-width="1" stroke-linejoin="round"/>
<path d="M368.4 195.05 L368.9 195.03 L369.4 195.01 L369.9 194.97 L370.4 194.93 L370.9 194.86 L371.4 194.78 L371.9 194.68 L372.4 194.54 L372.9 194.37 L373.4 194.15 L373.9 193.88 L374.4 193.54 L374.9 193.12 L375.4 192.62 L375.9 192.01 L376.4 191.29 L376.9 190.44 L377.4 189.45 L377.9 188.3 L378.4 187 L378.9 185.52 L379.4 183.88 L379.9 182.06 L380.4 180.08 L380.9 177.95 L381.4 175.68 L381.9 173.29 L382.4 170.83 L382.9 168.31 L383.4 165.79 L383.9 163.3 L384.4 160.9 L384.9 158.63 L385.4 156.54 L385.9 154.67 L386.4 153.08 L386.9 151.8 L387.4 150.87 L387.9 150.29 L388.4 150.1 L388.9 150.31 L389.4 150.92 L389.9 151.93 L390.4 153.31 L390.9 155.01 L391.4 157 L391.9 159.22 L392.4 161.62 L392.9 164.15 L393.4 166.76 L393.9 169.38 L394.4 171.97 L394.9 174.5 L395.4 176.91 L395.9 179.2 L396.4 181.32 L396.9 183.27 L397.4 185.04 L397.9 186.62 L398.4 188.02 L398.9 189.24 L399.4 190.3 L399.9 191.2 L400.4 191.96 L400.9 192.6 L401.4 193.12 L401.9 193.55 L402.4 193.9 L402.9 194.18 L403.4 194.4 L403.9 194.57 L404.4 194.7 L404.9 194.81 L405.4 194.89 L405.9 194.94 L406.4 194.99 L406.9 195.02 L407.4 195.04 L407.9 195.06 L408.4 195.07 L408.4 195.1 L368.4 195.1 Z" fill="#565656" stroke="#161616" stroke-width="1" stroke-linejoin="round"/>
<path d="M337.5 195.6 L338 195.6 L338.5 195.6 L339 195.6 L339.5 195.59 L340 195.58 L340.5 195.56 L341 195.52 L341.5 195.44 L342 195.3 L342.5 195.04 L343 194.61 L343.5 193.92 L344 192.89 L344.5 191.4 L345 189.38 L345.5 186.77 L346 183.56 L346.5 179.82 L347 175.67 L347.5 171.3 L348 166.93 L348.5 162.78 L349 159.04 L349.5 155.83 L350 153.22 L350.5 151.2 L351 149.71 L351.5 148.68 L352 147.99 L352.5 147.56 L353 147.3 L353.5 147.16 L354 147.08 L354.5 147.04 L355 147.02 L355.5 147.01 L356 147 L356.5 147 L357 147 L357.5 147 L358 147 L358.5 147 L359 147 L359.5 147 L360 147 L360.5 147 L361 147 L361.5 147 L362 147 L362.5 147 L363 147 L363.5 147 L364 147 L364.5 147 L365 147 L365.5 147 L366 147 L366.5 147 L367 147 L367.5 147 L368 147 L368.5 147 L369 147 L369.5 147 L370 147 L370.5 147 L371 147 L371.5 147 L372 147 L372.5 147 L373 147 L373.5 147 L374 147 L374.5 147 L375 147 L375.5 147 L376 147 L376.5 147 L377 147 L377.5 147 L378 147 L378.5 147.01 L379 147.01 L379.5 147.02 L380 147.04 L380.5 147.07 L381 147.11 L381.5 147.19 L382 147.3 L382.5 147.48 L383 147.74 L383.5 148.11 L384 148.62 L384.5 149.32 L385 150.25 L385.5 151.43 L386 152.91 L386.5 154.71 L387 156.83 L387.5 159.27 L388 161.99 L388.5 164.95 L389 168.08 L389.5 171.3 L390 174.52 L390.5 177.65 L391 180.61 L391.5 183.33 L392 185.77 L392.5 187.89 L393 189.69 L393.5 191.17 L394 192.35 L394.5 193.28 L395 193.98 L395.5 194.49 L396 194.86 L396.5 195.12 L397 195.3 L397.5 195.41 L398 195.49 L398.5 195.53 L399 195.56 L399.5 195.58 L400 195.59 L400.5 195.59 L401 195.6 L401.5 195.6 L401.5 195.6 L401 195.6 L400.5 195.59 L400 195.59 L399.5 195.58 L399 195.56 L398.5 195.53 L398 195.49 L397.5 195.41 L397 195.3 L396.5 195.12 L396 194.86 L395.5 194.49 L395 193.98 L394.5 193.28 L394 192.35 L393.5 191.17 L393 189.69 L392.5 187.89 L392 185.77 L391.5 183.33 L391 180.61 L390.5 177.65 L390 174.52 L389.5 171.3 L389 168.08 L388.5 164.95 L388 161.99 L387.5 159.27 L387 156.83 L386.5 154.71 L386 154.83 L385.5 156.64 L385 158.69 L384.5 160.93 L384 163.31 L383.5 165.79 L383 168.31 L382.5 170.83 L382 173.31 L381.5 175.71 L381 178 L380.5 180.17 L380 182.18 L379.5 184.03 L379 185.71 L378.5 187.22 L378 188.56 L377.5 189.73 L377 190.75 L376.5 191.63 L376 192.38 L375.5 193.01 L375 193.53 L374.5 193.96 L374 194.1 L373.5 194.1 L373 194.1 L372.5 194.1 L372 194.1 L371.5 194.1 L371 194.1 L370.5 194.1 L370 194.1 L369.5 194.1 L369 194.1 L368.5 194.1 L368 194.1 L367.5 194.1 L367 194.1 L366.5 194.1 L366 194.1 L365.5 194.1 L365 194.1 L364.5 194.1 L364 194.1 L363.5 194.1 L363 194.1 L362.5 194.1 L362 194.1 L361.5 194.1 L361 194.1 L360.5 194.1 L360 194.1 L359.5 194.1 L359 194.1 L358.5 194.1 L358 194.1 L357.5 194.1 L357 194.1 L356.5 194.1 L356 194.1 L355.5 194.1 L355 194.1 L354.5 193.79 L354 192.79 L353.5 191.36 L353 189.35 L352.5 186.61 L352 182.98 L351.5 178.3 L351 172.47 L350.5 165.42 L350 157.17 L349.5 155.83 L349 159.04 L348.5 162.78 L348 166.93 L347.5 171.3 L347 175.67 L346.5 179.82 L346 183.56 L345.5 186.77 L345 189.38 L344.5 191.4 L344 192.89 L343.5 193.92 L343 194.61 L342.5 195.04 L342 195.3 L341.5 195.44 L341 195.52 L340.5 195.56 L340 195.58 L339.5 195.59 L339 195.6 L338.5 195.6 L338 195.6 L337.5 195.6 Z" fill="#fff" stroke="#111" stroke-width="1.15" stroke-linejoin="round"/>
<clipPath id="cp2"><path d="M337.5 195.1 L338 195.1 L338.5 195.1 L339 195.1 L339.5 195.09 L340 195.08 L340.5 195.06 L341 195.02 L341.5 194.94 L342 194.8 L342.5 194.54 L343 194.11 L343.5 193.42 L344 192.39 L344.5 190.9 L345 188.88 L345.5 186.27 L346 183.06 L346.5 179.32 L347 175.17 L347.5 170.8 L348 166.43 L348.5 162.28 L349 158.54 L349.5 155.33 L350 152.72 L350.5 150.7 L351 149.21 L351.5 148.18 L352 147.49 L352.5 147.06 L353 146.8 L353.5 146.66 L354 146.58 L354.5 146.54 L355 146.52 L355.5 146.51 L356 146.5 L356.5 146.5 L357 146.5 L357.5 146.5 L358 146.5 L358.5 146.5 L359 146.5 L359.5 146.5 L360 146.5 L360.5 146.5 L361 146.5 L361.5 146.5 L362 146.5 L362.5 146.5 L363 146.5 L363.5 146.5 L364 146.5 L364.5 146.5 L365 146.5 L365.5 146.5 L366 146.5 L366.5 146.5 L367 146.5 L367.5 146.5 L368 146.5 L368.5 146.5 L369 146.5 L369.5 146.5 L370 146.5 L370.5 146.5 L371 146.5 L371.5 146.5 L372 146.5 L372.5 146.5 L373 146.5 L373.5 146.5 L374 146.5 L374.5 146.5 L375 146.5 L375.5 146.5 L376 146.5 L376.5 146.5 L377 146.5 L377.5 146.5 L378 146.5 L378.5 146.51 L379 146.51 L379.5 146.52 L380 146.54 L380.5 146.57 L381 146.61 L381.5 146.69 L382 146.8 L382.5 146.98 L383 147.24 L383.5 147.61 L384 148.12 L384.5 148.82 L385 149.75 L385.5 150.93 L386 152.41 L386.5 154.21 L387 156.33 L387.5 158.77 L388 161.49 L388.5 164.45 L389 167.58 L389.5 170.8 L390 174.02 L390.5 177.15 L391 180.11 L391.5 182.83 L392 185.27 L392.5 187.39 L393 189.19 L393.5 190.67 L394 191.85 L394.5 192.78 L395 193.48 L395.5 193.99 L396 194.36 L396.5 194.62 L397 194.8 L397.5 194.91 L398 194.99 L398.5 195.03 L399 195.06 L399.5 195.08 L400 195.09 L400.5 195.09 L401 195.1 L401.5 195.1 L401.5 195.1 L337.5 195.1 Z"/></clipPath>
<path d="M374.57 110.7L429.64 175.41M372.24 112.68L427.31 177.38M369.92 114.65L424.99 179.36M367.6 116.63L422.67 181.34M365.28 118.61L420.35 183.31M362.95 120.58L418.02 185.29M360.63 122.56L415.7 187.27M358.31 124.54L413.38 189.25M355.98 126.51L411.06 191.22M353.66 128.49L408.73 193.2M351.34 130.47L406.41 195.18M349.02 132.44L404.09 197.15M346.69 134.42L401.76 199.13M344.37 136.4L399.44 201.11M342.05 138.37L397.12 203.08M339.73 140.35L394.8 205.06M337.4 142.33L392.47 207.04M335.08 144.3L390.15 209.01M332.76 146.28L387.83 210.99M330.44 148.26L385.51 212.97M328.11 150.23L383.18 214.94M325.79 152.21L380.86 216.92M323.47 154.19L378.54 218.9M321.14 156.17L376.22 220.87M318.82 158.14L373.89 222.85M316.5 160.12L371.57 224.83M314.18 162.1L369.25 226.8M311.85 164.07L366.92 228.78" clip-path="url(#cp2)" stroke="#262626" stroke-width="0.62" fill="none"/>
<path d="M337.5 195.1 L338 195.1 L338.5 195.1 L339 195.1 L339.5 195.09 L340 195.08 L340.5 195.06 L341 195.02 L341.5 194.94 L342 194.8 L342.5 194.54 L343 194.11 L343.5 193.42 L344 192.39 L344.5 190.9 L345 188.88 L345.5 186.27 L346 183.06 L346.5 179.32 L347 175.17 L347.5 170.8 L348 166.43 L348.5 162.28 L349 158.54 L349.5 155.33 L350 152.72 L350.5 150.7 L351 149.21 L351.5 148.18 L352 147.49 L352.5 147.06 L353 146.8 L353.5 146.66 L354 146.58 L354.5 146.54 L355 146.52 L355.5 146.51 L356 146.5 L356.5 146.5 L357 146.5 L357.5 146.5 L358 146.5 L358.5 146.5 L359 146.5 L359.5 146.5 L360 146.5 L360.5 146.5 L361 146.5 L361.5 146.5 L362 146.5 L362.5 146.5 L363 146.5 L363.5 146.5 L364 146.5 L364.5 146.5 L365 146.5 L365.5 146.5 L366 146.5 L366.5 146.5 L367 146.5 L367.5 146.5 L368 146.5 L368.5 146.5 L369 146.5 L369.5 146.5 L370 146.5 L370.5 146.5 L371 146.5 L371.5 146.5 L372 146.5 L372.5 146.5 L373 146.5 L373.5 146.5 L374 146.5 L374.5 146.5 L375 146.5 L375.5 146.5 L376 146.5 L376.5 146.5 L377 146.5 L377.5 146.5 L378 146.5 L378.5 146.51 L379 146.51 L379.5 146.52 L380 146.54 L380.5 146.57 L381 146.61 L381.5 146.69 L382 146.8 L382.5 146.98 L383 147.24 L383.5 147.61 L384 148.12 L384.5 148.82 L385 149.75 L385.5 150.93 L386 152.41 L386.5 154.21 L387 156.33 L387.5 158.77 L388 161.49 L388.5 164.45 L389 167.58 L389.5 170.8 L390 174.02 L390.5 177.15 L391 180.11 L391.5 182.83 L392 185.27 L392.5 187.39 L393 189.19 L393.5 190.67 L394 191.85 L394.5 192.78 L395 193.48 L395.5 193.99 L396 194.36 L396.5 194.62 L397 194.8 L397.5 194.91 L398 194.99 L398.5 195.03 L399 195.06 L399.5 195.08 L400 195.09 L400.5 195.09 L401 195.1 L401.5 195.1 L401.5 195.1 L337.5 195.1 Z" fill="none" stroke="#1c1c1c" stroke-width="0.9"/>
<path d="M325.3 195.1 L325.8 195.1 L326.3 195.1 L326.8 195.1 L327.3 195.1 L327.8 195.1 L328.3 195.1 L328.8 195.1 L329.3 195.1 L329.8 195.1 L330.3 195.1 L330.8 195.1 L331.3 195.1 L331.8 195.1 L332.3 195.1 L332.8 195.09 L333.3 195.09 L333.8 195.08 L334.3 195.05 L334.8 195 L335.3 194.91 L335.8 194.74 L336.3 194.45 L336.8 193.97 L337.3 193.19 L337.8 191.97 L338.3 190.14 L338.8 187.46 L339.3 183.72 L339.8 178.69 L340.3 172.16 L340.8 164.04 L341.3 154.37 L341.8 143.36 L342.3 131.45 L342.8 119.25 L343.3 107.54 L343.8 97.21 L344.3 89.08 L344.8 83.89 L345.3 82.1 L345.8 83.47 L346.3 87.49 L346.8 93.86 L347.3 102.15 L347.8 111.82 L348.3 122.28 L348.8 132.97 L349.3 143.36 L349.8 153.06 L350.3 161.76 L350.8 169.3 L351.3 175.62 L351.8 180.74 L352.3 184.77 L352.8 187.85 L353.3 190.14 L353.8 191.78 L354.3 192.94 L354.8 193.72 L355.3 194.24 L355.8 194.58 L356.3 194.79 L356.8 194.92 L357.3 195 L357.8 195.05 L358.3 195.07 L358.8 195.08 L359.3 195.09 L359.8 195.1 L360.3 195.1 L360.8 195.1 L361.3 195.1 L361.8 195.1 L362.3 195.1 L362.8 195.1 L363.3 195.1 L363.8 195.1 L364.3 195.1 L364.8 195.1 L365.3 195.1" fill="none" stroke="#161616" stroke-width="1"/>
<path d="M368.4 195.05 L368.9 195.03 L369.4 195.01 L369.9 194.97 L370.4 194.93 L370.9 194.86 L371.4 194.78 L371.9 194.68 L372.4 194.54 L372.9 194.37 L373.4 194.15 L373.9 193.88 L374.4 193.54 L374.9 193.12 L375.4 192.62 L375.9 192.01 L376.4 191.29 L376.9 190.44 L377.4 189.45 L377.9 188.3 L378.4 187 L378.9 185.52 L379.4 183.88 L379.9 182.06 L380.4 180.08 L380.9 177.95 L381.4 175.68 L381.9 173.29 L382.4 170.83 L382.9 168.31 L383.4 165.79 L383.9 163.3 L384.4 160.9 L384.9 158.63 L385.4 156.54 L385.9 154.67 L386.4 153.08 L386.9 151.8 L387.4 150.87 L387.9 150.29 L388.4 150.1 L388.9 150.31 L389.4 150.92 L389.9 151.93 L390.4 153.31 L390.9 155.01 L391.4 157 L391.9 159.22 L392.4 161.62 L392.9 164.15 L393.4 166.76 L393.9 169.38 L394.4 171.97 L394.9 174.5 L395.4 176.91 L395.9 179.2 L396.4 181.32 L396.9 183.27 L397.4 185.04 L397.9 186.62 L398.4 188.02 L398.9 189.24 L399.4 190.3 L399.9 191.2 L400.4 191.96 L400.9 192.6 L401.4 193.12 L401.9 193.55 L402.4 193.9 L402.9 194.18 L403.4 194.4 L403.9 194.57 L404.4 194.7 L404.9 194.81 L405.4 194.89 L405.9 194.94 L406.4 194.99 L406.9 195.02 L407.4 195.04 L407.9 195.06 L408.4 195.07" fill="none" stroke="#161616" stroke-width="1"/>
<path d="M313.9 158.8 L314.9 159.45 L315.9 160.39 L316.9 161.32 L317.9 162.26 L318.9 163.19 L319.9 164.13 L320.9 165.17 L321.9 166.28 L322.9 167.4 L323.9 168.52 L324.9 169.63 L325.9 170.7 L326.9 171.7 L327.9 172.7 L328.9 173.7 L329.9 174.7 L330.9 175.64 L331.9 176.44 L332.9 177.23 L333.9 178.03 L334.9 178.83 L335.9 179.62 L336.9 180.42 L337.9 181.03 L338.9 181.63 L339.9 182.22 L340.9 182.82 L341.9 183.41 L342.9 184 L343.9 184.6 L344.9 185.21 L345.9 185.82 L346.9 186.43 L347.9 187.04 L348.9 187.65 L349.9 188.25 L350.9 188.75 L351.9 189.25 L352.9 189.75 L353.9 190.25 L354.9 190.75 L355.9 191.25 L356.9 191.58 L357.9 191.83 L358.9 192.09 L359.9 192.34 L360.9 192.6 L361.9 192.78 L362.9 192.91 L363.9 193.05 L364.9 193.18 L365.9 193.32 L366.9 193.45 L367.9 193.59 L368.9 193.68 L369.9 193.76 L370.9 193.85 L371.9 193.93 L372.9 194.02 L373.9 194.11 L374.9 194.19 L375.9 194.28 L376.9 194.37 L377.9 194.45 L378.9 194.54 L379.9 194.63 L380.9 194.72 L381.9 194.8 L382.9 194.89 L383.9 194.97 L384.9 195.05 L385.9 195.13 L386.9 195.2 L387.9 195.28 L388.9 195.36 L389.9 195.44 L390.9 195.51 L391.9 195.59 L391.9 195.6 L313.9 195.6 Z" fill="#a0a0a0" stroke="none"/>
<path d="M313.9 158.8 L314.9 159.45 L315.9 160.39 L316.9 161.32 L317.9 162.26 L318.9 163.19 L319.9 164.13 L320.9 165.17 L321.9 166.28 L322.9 167.4 L323.9 168.52 L324.9 169.63 L325.9 170.7 L326.9 171.7 L327.9 172.7 L328.9 173.7 L329.9 174.7 L330.9 175.64 L331.9 176.44 L332.9 177.23 L333.9 178.03 L334.9 178.83 L335.9 179.62 L336.9 180.42 L337.9 181.03 L338.9 181.63 L339.9 182.22 L340.9 182.82 L341.9 183.41 L342.9 184 L343.9 184.6 L344.9 185.21 L345.9 185.82 L346.9 186.43 L347.9 187.04 L348.9 187.65 L349.9 188.25 L350.9 188.75 L351.9 189.25 L352.9 189.75 L353.9 190.25 L354.9 190.75 L355.9 191.25 L356.9 191.58 L357.9 191.83 L358.9 192.09 L359.9 192.34 L360.9 192.6 L361.9 192.78 L362.9 192.91 L363.9 193.05 L364.9 193.18 L365.9 193.32 L366.9 193.45 L367.9 193.59 L368.9 193.68 L369.9 193.76 L370.9 193.85 L371.9 193.93 L372.9 194.02 L373.9 194.11 L374.9 194.19 L375.9 194.28 L376.9 194.37 L377.9 194.45 L378.9 194.54 L379.9 194.63 L380.9 194.72 L381.9 194.8 L382.9 194.89 L383.9 194.97 L384.9 195.05 L385.9 195.13 L386.9 195.2 L387.9 195.28 L388.9 195.36 L389.9 195.44 L390.9 195.51 L391.9 195.59" fill="none" stroke="#111" stroke-width="1.1"/>
<path d="M342 195.6 L343 195.4 L344 195.2 L345 195 L346 194.75 L347 194.5 L348 194.25 L349 194 L350 193.86 L351 193.72 L352 193.58 L353 193.44 L354 193.3 L355 193.25 L356 193.2 L357 193.15 L358 193.1 L359 193.05 L360 193 L361 193.03 L362 193.05 L363 193.07 L364 193.1 L365 193.12 L366 193.15 L367 193.18 L368 193.2 L369 193.22 L370 193.25 L371 193.28 L372 193.3 L373 193.32 L374 193.35 L375 193.38 L376 193.4 L377 193.43 L378 193.45 L379 193.47 L380 193.5 L381 193.52 L382 193.54 L383 193.57 L384 193.59 L385 193.61 L386 193.63 L387 193.66 L388 193.68 L389 193.7 L390 193.72 L391 193.75 L392 193.77 L393 193.79 L394 193.81 L395 193.84 L396 193.86 L397 193.88 L398 193.91 L399 193.93 L400 193.95 L401 193.97 L402 194 L403 194.02 L404 194.04 L405 194.06 L406 194.09 L407 194.11 L408 194.13 L409 194.15 L410 194.18 L411 194.2 L412 194.22 L413 194.24 L414 194.27 L415 194.29 L416 194.31 L417 194.33 L418 194.36 L419 194.38 L420 194.4 L421 194.41 L422 194.43 L423 194.44 L424 194.46 L425 194.47 L426 194.49 L427 194.5 L428 194.52 L429 194.53 L430 194.55 L431 194.56 L432 194.58 L433 194.59 L434 194.61 L435 194.62 L436 194.64 L437 194.66 L438 194.67 L439 194.69 L440 194.7 L441 194.72 L442 194.73 L443 194.75 L444 194.76 L445 194.78 L446 194.79 L447 194.81 L448 194.82 L449 194.84 L450 194.85 L451 194.87 L452 194.88 L453 194.9 L454 194.91 L455 194.93 L456 194.94 L457 194.96 L458 194.97 L459 194.99 L460 195 L461 195.01 L462 195.01 L463 195.02 L464 195.02 L465 195.03 L466 195.03 L467 195.04 L468 195.04 L469 195.05 L470 195.05 L471 195.06 L472 195.06 L473 195.07 L474 195.07 L475 195.08 L476 195.08 L477 195.09 L478 195.09 L479 195.1 L480 195.1 L481 195.11 L482 195.11 L483 195.12 L484 195.12 L485 195.13 L486 195.13 L487 195.14 L488 195.14 L489 195.15 L490 195.15 L491 195.16 L492 195.16 L493 195.17 L494 195.17 L495 195.18 L496 195.18 L497 195.19 L498 195.19 L499 195.2 L500 195.2 L501 195.21 L502 195.21 L503 195.22 L504 195.22 L505 195.23 L506 195.23 L507 195.24 L508 195.24 L509 195.25 L510 195.25 L511 195.26 L512 195.26 L513 195.27 L514 195.27 L515 195.28 L516 195.28 L517 195.29 L518 195.29 L519 195.3 L519 195.6 L342 195.6 Z" fill="#d4d4d4" stroke="none"/>
<path d="M342 195.6 L343 195.4 L344 195.2 L345 195 L346 194.75 L347 194.5 L348 194.25 L349 194 L350 193.86 L351 193.72 L352 193.58 L353 193.44 L354 193.3 L355 193.25 L356 193.2 L357 193.15 L358 193.1 L359 193.05 L360 193 L361 193.03 L362 193.05 L363 193.07 L364 193.1 L365 193.12 L366 193.15 L367 193.18 L368 193.2 L369 193.22 L370 193.25 L371 193.28 L372 193.3 L373 193.32 L374 193.35 L375 193.38 L376 193.4 L377 193.43 L378 193.45 L379 193.47 L380 193.5 L381 193.52 L382 193.54 L383 193.57 L384 193.59 L385 193.61 L386 193.63 L387 193.66 L388 193.68 L389 193.7 L390 193.72 L391 193.75 L392 193.77 L393 193.79 L394 193.81 L395 193.84 L396 193.86 L397 193.88 L398 193.91 L399 193.93 L400 193.95 L401 193.97 L402 194 L403 194.02 L404 194.04 L405 194.06 L406 194.09 L407 194.11 L408 194.13 L409 194.15 L410 194.18 L411 194.2 L412 194.22 L413 194.24 L414 194.27 L415 194.29 L416 194.31 L417 194.33 L418 194.36 L419 194.38 L420 194.4 L421 194.41 L422 194.43 L423 194.44 L424 194.46 L425 194.47 L426 194.49 L427 194.5 L428 194.52 L429 194.53 L430 194.55 L431 194.56 L432 194.58 L433 194.59 L434 194.61 L435 194.62 L436 194.64 L437 194.66 L438 194.67 L439 194.69 L440 194.7 L441 194.72 L442 194.73 L443 194.75 L444 194.76 L445 194.78 L446 194.79 L447 194.81 L448 194.82 L449 194.84 L450 194.85 L451 194.87 L452 194.88 L453 194.9 L454 194.91 L455 194.93 L456 194.94 L457 194.96 L458 194.97 L459 194.99 L460 195 L461 195.01 L462 195.01 L463 195.02 L464 195.02 L465 195.03 L466 195.03 L467 195.04 L468 195.04 L469 195.05 L470 195.05 L471 195.06 L472 195.06 L473 195.07 L474 195.07 L475 195.08 L476 195.08 L477 195.09 L478 195.09 L479 195.1 L480 195.1 L481 195.11 L482 195.11 L483 195.12 L484 195.12 L485 195.13 L486 195.13 L487 195.14 L488 195.14 L489 195.15 L490 195.15 L491 195.16 L492 195.16 L493 195.17 L494 195.17 L495 195.18 L496 195.18 L497 195.19 L498 195.19 L499 195.2 L500 195.2 L501 195.21 L502 195.21 L503 195.22 L504 195.22 L505 195.23 L506 195.23 L507 195.24 L508 195.24 L509 195.25 L510 195.25 L511 195.26 L512 195.26 L513 195.27 L514 195.27 L515 195.28 L516 195.28 L517 195.29 L518 195.29 L519 195.3" fill="none" stroke="#222" stroke-width="0.8"/>
<path d="M314.2 158.8 C315.22 159.75 318.42 162.58 320.3 164.5 C322.18 166.42 323.78 168.48 325.5 170.3 C327.22 172.12 329.02 173.95 330.6 175.4 C332.18 176.85 333.88 178.13 335 179 C336.12 179.87 336.63 180.52 337.3 180.6 C337.97 180.68 338.52 180.93 339 179.5 C339.48 178.07 339.82 178.58 340.2 172 C340.58 165.42 340.92 152 341.3 140 C341.68 128 342.05 113.33 342.5 100 C342.95 86.67 343.47 70.42 344 60 C344.53 49.58 345.2 38.33 345.7 37.5 C346.2 36.67 346.53 47.92 347 55 C347.47 62.08 348 72.08 348.5 80 C349 87.92 349.53 95.5 350 102.5 C350.47 109.5 350.88 116.92 351.3 122 C351.72 127.08 352.05 130.53 352.5 133 C352.95 135.47 353.38 135.84 354 136.8 C354.62 137.76 355.42 138.18 356.25 138.75 C357.08 139.32 357.96 139.78 359 140.2 C360.04 140.62 361 140.95 362.5 141.25 C364 141.55 365.92 141.88 368 142 C370.08 142.12 373.58 142.25 375 142 C376.42 141.75 376.08 141.25 376.5 140.5 C376.92 139.75 377.08 139 377.5 137.5 C377.92 136 378.5 133.58 379 131.5 C379.5 129.42 380 126.92 380.5 125 C381 123.08 381.46 121.46 382 120 C382.54 118.54 383.04 117.29 383.75 116.25 C384.46 115.21 385.64 113.88 386.25 113.75 C386.86 113.62 387.06 114.46 387.4 115.5 C387.74 116.54 387.85 116.33 388.3 120 C388.75 123.67 389.33 131.25 390.1 137.5 C390.87 143.75 391.95 151.25 392.9 157.5 C393.85 163.75 394.92 170.5 395.8 175 C396.68 179.5 397.42 182.3 398.2 184.5 C398.98 186.7 399.45 187.22 400.5 188.2 C401.55 189.18 402.92 189.77 404.5 190.4 C406.08 191.03 407.83 191.57 410 192 C412.17 192.43 414.17 192.68 417.5 193 C420.83 193.32 421.25 193.62 430 193.9 C438.75 194.18 455.17 194.52 470 194.7 C484.83 194.88 510.83 194.95 519 195" fill="none" stroke="#0e0e0e" stroke-width="1.15" stroke-linejoin="round"/>
<path d="M314.2 161.41 L315 156.28 L315.8 159.58 L316.6 159.3 L317.4 158.99 L318.2 160.28 L319 161.13 L319.8 162.59 L320.6 164.2 L321.4 166.11 L322.2 165.67 L323 167.96 L323.8 167.8 L324.6 168.14 L325.4 168.55 L326.2 168.26 L327 168.2 L327.8 171.18 L328.6 171.86 L329.4 173.33 L330.2 174.14 L331 172.77 L331.8 174.17 L332.6 174.32 L333.4 177.65 L334.2 176.92 L335 177.86 L335.8 177.21 L336.6 177.36 L337.4 178.68 L338.2 178.77 L339 178.89 L339.8 173.66 L340.6 160.25 L341.4 136.43 L342.2 109.82 L343 86.53 L343.8 65.15 L344.6 52.21 L345.4 44.18 L346.2 38.14 L347 42.64 L347.8 53.12 L348.6 65.53 L349.4 79.05 L350.2 89.75 L351 96.96 L351.8 110.42 L352.6 121.2 L353.4 131.84 L354.2 131.41 L355 136 L355.8 134.89 L356.6 137.39 L357.4 137.95 L358.2 136.06 L359 133.18 L359.8 135.57 L360.6 142.12 L361.4 140.69 L362.2 137.14 L363 133.35 L363.8 132.35 L364.6 138.39 L365.4 143.07 L366.2 140.13 L367 138.89 L367.8 141.16 L368.6 141.07 L369.4 142.06 L370.2 135.93 L371 139.43 L371.8 143.25 L372.6 139.09 L373.4 142.96 L374.2 135.89 L375 139.21 L375.8 135.52 L376.6 137.63 L377.4 137.91 L378.2 127.02 L379 126.62 L379.8 129.08 L380.6 125.08 L381.4 116.42 L382.2 120.96 L383 116.32 L383.8 110.39 L384.6 113.84 L385.4 110.91 L386.2 105.86 L387 110.15 L387.8 115.47 L388.6 122.61 L389.4 123.31 L390.2 131.53 L391 136.69 L391.8 142.33 L392.6 146.74 L393.4 155.14 L394.2 160.25 L395 165.26 L395.8 169.03 L396.6 174.58 L397.4 177.02 L398.2 180.44 L399 182.8 L399.8 184.39 L400.6 185.43 L401.4 186.33 L402.2 187.1 L403 187.28 L403.8 187.78 L404.6 188.65 L405.4 188.94 L406.2 190.69 L407 190.86 L407.8 190.77 L408.6 190.9 L409.4 190.18 L410.2 191.14 L411 190.22 L411.8 190.87 L412.6 191.11 L413.4 191.33 L414.2 192.18 L415 191.38 L415.8 193.32 L416.6 191.83 L417.4 192.72 L418.2 191.51 L419 192.93 L419.8 191.9 L420.6 192.72 L421.4 192.67 L422.2 193.15 L423 193.1 L423.8 193.05 L424.6 192.84 L425.4 193.91 L426.2 192.82 L427 193.1 L427.8 192.94 L428.6 193.28 L429.4 192.85 L430.2 193.14 L431 193.57 L431.8 193.11 L432.6 193.58 L433.4 193.15 L434.2 194.03 L435 193.38 L435.8 194.21 L436.6 193.69 L437.4 193.44 L438.2 193.91 L439 194.02 L439.8 194.19 L440.6 194.15 L441.4 193.96 L442.2 193.12 L443 194 L443.8 193.6 L444.6 193.82 L445.4 194.19 L446.2 193.41 L447 194.25 L447.8 194.69 L448.6 193.97 L449.4 193.65 L450.2 194.33 L451 193.88 L451.8 194.23 L452.6 194.33 L453.4 193.28 L454.2 194 L455 193.32 L455.8 193.65 L456.6 194.16 L457.4 193.51 L458.2 193.71 L459 193.82 L459.8 194.12 L460.6 194.15 L461.4 194.2 L462.2 193.88 L463 193.81 L463.8 194.24 L464.6 193.81 L465.4 193.85 L466.2 194.4 L467 193.9 L467.8 193.88 L468.6 194.59 L469.4 194.21 L470.2 193.5 L471 194 L471.8 194.9 L472.6 195.2 L473.4 194.17 L474.2 194.51 L475 194.53 L475.8 194.4 L476.6 193.71 L477.4 194.63 L478.2 194.41 L479 194.25 L479.8 193.81 L480.6 194.13 L481.4 194.31 L482.2 194.27 L483 194.43 L483.8 194.24 L484.6 194.69 L485.4 194.58 L486.2 194.02 L487 194.2 L487.8 194.54 L488.6 194.24 L489.4 194.86 L490.2 194.26 L491 194.51 L491.8 194.63 L492.6 194.09 L493.4 194.84 L494.2 194.4 L495 194.25 L495.8 194.26 L496.6 193.96 L497.4 194.07 L498.2 194.95 L499 194.46 L499.8 194.43 L500.6 194.58 L501.4 194.7 L502.2 194.29 L503 194.48 L503.8 194.63 L504.6 194.86 L505.4 194.64 L506.2 195.06 L507 194.51 L507.8 194.49 L508.6 194.18 L509.4 194.59 L510.2 194.79 L511 194.54 L511.8 194.57 L512.6 194.35 L513.4 194.47 L514.2 194.52 L515 194.63 L515.8 194.96 L516.6 194.81 L517.4 194.93" fill="none" stroke="#0e0e0e" stroke-width="1.05" stroke-linejoin="round"/>
<path d="M313.9 27 V196.2" stroke="#141414" stroke-width="1.2" fill="none"/>
<path d="M313.3 195.6 H519" stroke="#141414" stroke-width="1.2" fill="none"/>
<path d="M313.9 195.6H308.3M313.9 187.2H310.7M313.9 178.8H310.7M313.9 170.4H310.7M313.9 162H310.7M313.9 153.6H308.3M313.9 145.2H310.7M313.9 136.8H310.7M313.9 128.4H310.7M313.9 120H310.7M313.9 111.6H308.3M313.9 103.2H310.7M313.9 94.8H310.7M313.9 86.4H310.7M313.9 78H310.7M313.9 69.6H308.3M313.9 61.2H310.7M313.9 52.8H310.7M313.9 44.4H310.7M313.9 36H310.7" stroke="#141414" stroke-width="1.0" fill="none"/>
<path d="M313.9 195.6V201.1M321.9 195.6V198.8M329.9 195.6V198.8M337.9 195.6V198.8M345.9 195.6V198.8M353.9 195.6V201.1M361.9 195.6V198.8M369.9 195.6V198.8M377.9 195.6V198.8M385.9 195.6V198.8M393.9 195.6V201.1M401.9 195.6V198.8M409.9 195.6V198.8M417.9 195.6V198.8M425.9 195.6V198.8M433.9 195.6V201.1M441.9 195.6V198.8M449.9 195.6V198.8M457.9 195.6V198.8M465.9 195.6V198.8M473.9 195.6V201.1M481.9 195.6V198.8M489.9 195.6V198.8M497.9 195.6V198.8M505.9 195.6V198.8M513.9 195.6V201.1" stroke="#141414" stroke-width="1.0" fill="none"/>
<path d="M345.1 196.3 L341.7 201.6 L348.5 201.6 Z" fill="#0a0a0a"/>
<text x="271.4" y="22.6" font-family='"Liberation Sans", sans-serif' font-size="23.3" font-weight="bold" text-anchor="start" textLength="18" lengthAdjust="spacingAndGlyphs"  stroke="#000" stroke-width="0.22">B</text>
<text x="343.6" y="22.7" font-family='"Liberation Serif", serif' font-size="17.6" font-weight="normal" text-anchor="start" textLength="108" lengthAdjust="spacingAndGlyphs"  stroke="#000" stroke-width="0.22">K562 + 4-OHT</text>
<text x="298.9" y="75.5" font-family='"Liberation Serif", serif' font-size="17.9" font-weight="normal" text-anchor="end" textLength="26" lengthAdjust="spacingAndGlyphs"  stroke="#000" stroke-width="0.22">600</text>
<text x="298.9" y="117.4" font-family='"Liberation Serif", serif' font-size="17.9" font-weight="normal" text-anchor="end" textLength="26" lengthAdjust="spacingAndGlyphs"  stroke="#000" stroke-width="0.22">400</text>
<text x="298.9" y="158.9" font-family='"Liberation Serif", serif' font-size="17.9" font-weight="normal" text-anchor="end" textLength="26" lengthAdjust="spacingAndGlyphs"  stroke="#000" stroke-width="0.22">200</text>
<text x="301.6" y="202.3" font-family='"Liberation Serif", serif' font-size="17.9" font-weight="normal" text-anchor="end" textLength="7.9" lengthAdjust="spacingAndGlyphs"  stroke="#000" stroke-width="0.22">0</text>
<text x="311.2" y="217.4" font-family='"Liberation Serif", serif' font-size="17.9" font-weight="normal" text-anchor="middle" textLength="8" lengthAdjust="spacingAndGlyphs"  stroke="#000" stroke-width="0.22">0</text>
<text x="390.3" y="217.4" font-family='"Liberation Serif", serif' font-size="17.9" font-weight="normal" text-anchor="middle" textLength="24.3" lengthAdjust="spacingAndGlyphs"  stroke="#000" stroke-width="0.22">100</text>
<text x="470.2" y="217.4" font-family='"Liberation Serif", serif' font-size="17.9" font-weight="normal" text-anchor="middle" textLength="25" lengthAdjust="spacingAndGlyphs"  stroke="#000" stroke-width="0.22">200</text>
<text x="362.2" y="240.3" font-family='"Liberation Serif", serif' font-size="17.5" font-weight="normal" text-anchor="start" textLength="96.6" lengthAdjust="spacingAndGlyphs"  stroke="#000" stroke-width="0.22">DNA Content</text>
<text transform="translate(266 164.7) rotate(-90)" font-family='"Liberation Serif", serif' font-size="17.5" textLength="99" lengthAdjust="spacingAndGlyphs" stroke="#000" stroke-width="0.22">Cell Number</text>
<rect x="402.1" y="37.2" width="103.6" height="55" fill="#fff" stroke="#2a2a2a" stroke-width="1.05"/>
<text x="448.3" y="52.9" font-family='"Liberation Serif", serif' font-size="13.7" font-weight="normal" text-anchor="end"  stroke="#000" stroke-width="0.22">G0-G1:</text>
<text x="490.8" y="52.9" font-family='"Liberation Serif", serif' font-size="13.7" font-weight="normal" text-anchor="end"  stroke="#000" stroke-width="0.22">24.4%</text>
<text x="446.2" y="69.4" font-family='"Liberation Serif", serif' font-size="13.7" font-weight="normal" text-anchor="end"  stroke="#000" stroke-width="0.22">G2-M:</text>
<text x="490.8" y="69.4" font-family='"Liberation Serif", serif' font-size="13.7" font-weight="normal" text-anchor="end"  stroke="#000" stroke-width="0.22">8.3%</text>
<text x="444.7" y="85.8" font-family='"Liberation Serif", serif' font-size="13.7" font-weight="normal" text-anchor="end"  stroke="#000" stroke-width="0.22">S:</text>
<text x="490.8" y="85.8" font-family='"Liberation Serif", serif' font-size="13.7" font-weight="normal" text-anchor="end"  stroke="#000" stroke-width="0.22">67.3%</text>
<path d="M62.2 485.5 L62.7 486.15 L63.2 486.81 L63.7 487.57 L64.2 488.51 L64.7 489.44 L65.2 490.2 L65.7 490.7 L66.2 491.2 L66.7 491.7 L67.2 492.2 L67.7 492.7 L68.2 493.15 L68.7 493.54 L69.2 493.92 L69.7 494.3 L70.2 494.69 L70.7 495.07 L71.2 495.37 L71.7 495.55 L72.2 495.72 L72.7 495.89 L73.2 496.07 L73.7 496.25 L74.2 496.42 L74.7 496.59 L75.2 496.73 L75.7 496.81 L76.2 496.89 L76.7 496.97 L77.2 497.05 L77.7 497.13 L78.2 497.21 L78.7 497.29 L79.2 497.37 L79.7 497.45 L80.2 497.51 L80.7 497.55 L81.2 497.58 L81.7 497.61 L82.2 497.65 L82.7 497.68 L83.2 497.71 L83.7 497.75 L84.2 497.78 L84.7 497.81 L85.2 497.85 L85.7 497.88 L86.2 497.91 L86.7 497.95 L87.2 497.98 L87.7 498.01 L88.2 498.05 L88.7 498.08 L89.2 498.11 L89.7 498.15 L90.2 498.18 L90.7 498.21 L91.2 498.25 L91.7 498.28 L91.7 498.9 L62.2 498.9 Z" fill="#b8b8b8" stroke="#222" stroke-width="0.7"/>
<path d="M135.8 498.4 L135.8 462.5 L178 462.5 L181.3 463 L183.8 464.8 L185.8 468 L186.5 498.4 L186.5 498.5 L135.8 498.5 Z" fill="#fff" stroke="none"/>
<clipPath id="cp3"><path d="M135.8 498.4 L135.8 462.5 L178 462.5 L181.3 463 L183.8 464.8 L185.8 468 L186.5 498.4 L186.5 498.5 L135.8 498.5 Z"/></clipPath>
<path d="M158.73 435.97L205.27 484.17M154.43 440.11L200.98 488.31M150.14 444.26L196.68 492.46M145.84 448.41L192.39 496.61M141.55 452.56L188.09 500.75M137.25 456.7L183.8 504.9M132.96 460.85L179.5 509.05M128.67 465L175.21 513.19M124.37 469.14L170.91 517.34M120.08 473.29L166.62 521.49M115.78 477.44L162.33 525.64" clip-path="url(#cp3)" stroke="#1a1a1a" stroke-width="1" fill="none"/>
<path d="M135.8 498.4 L135.8 462.5 L178 462.5 L181.3 463 L183.8 464.8 L185.8 468 L186.5 498.4 L186.5 498.5 L135.8 498.5 Z" fill="none" stroke="#141414" stroke-width="1.1"/>
<path d="M173.3 498.5 C173.75 498.08 175.13 497.03 176 496 C176.87 494.97 177.67 493.88 178.5 492.3 C179.33 490.72 180.2 488.75 181 486.5 C181.8 484.25 182.58 481.13 183.3 478.8 C184.02 476.47 184.67 474.25 185.3 472.5 C185.93 470.75 186.57 469.25 187.1 468.3 C187.63 467.35 188.02 467.15 188.5 466.8 C188.98 466.45 189.27 466.28 190 466.2 C190.73 466.12 192.23 466.08 192.9 466.3 C193.57 466.52 193.68 466.85 194 467.5 C194.32 468.15 194.43 468.95 194.8 470.2 C195.17 471.45 195.72 473.23 196.2 475 C196.68 476.77 197.2 478.97 197.7 480.8 C198.2 482.63 198.72 484.4 199.2 486 C199.68 487.6 199.97 488.85 200.6 490.4 C201.23 491.95 202.17 493.95 203 495.3 C203.83 496.65 205.17 497.97 205.6 498.5 Z" fill="#242424" stroke="#111" stroke-width="0.7" stroke-linejoin="round"/>
<path d="M116.3 498.4 L118.8 496.5 L120.3 494 L121.1 489.6 L122.9 475 L124.1 455 L124.9 423 L125.9 422 L126 367.5 L126.7 367 L127.1 328.3 L128.2 328 L128.7 308.3 L129.7 308 L130 299 L130.4 288.6 L130.8 288.6 L131.4 299 L132 308 L132.4 308.3 L132.6 328 L132.9 328.3 L133.5 367 L134.1 367.5 L134.6 422 L135.4 423 L135.8 455 L136.4 475 L137.8 489.6 L138.5 494 L139.1 496.5 L139.7 498.4 Z" fill="#242424" stroke="#0c0c0c" stroke-width="0.5" stroke-linejoin="miter"/>
<path d="M124.5 497.8 C125 497.33 126.58 496.47 127.5 495 C128.42 493.53 129.17 491.83 130 489 C130.83 486.17 131.75 481.5 132.5 478 C133.25 474.5 133.95 470.5 134.5 468 C135.05 465.5 135.58 463.83 135.8 463" fill="none" stroke="#777" stroke-width="0.6"/>
<path d="M139.3 461 C139.67 461.83 140.75 464.67 141.5 466 C142.25 467.33 142.97 468.92 143.8 469 C144.63 469.08 145.22 467.87 146.5 466.5 C147.78 465.13 149.75 462.08 151.5 460.8 C153.25 459.52 154.92 459.13 157 458.8 C159.08 458.47 161.83 458.68 164 458.8 C166.17 458.92 168 459.37 170 459.5 C172 459.63 174.43 459.72 176 459.6 C177.57 459.48 178.32 459.65 179.4 458.8 C180.48 457.95 181.48 456.47 182.5 454.5 C183.52 452.53 184.67 449 185.5 447 C186.33 445 186.92 443.47 187.5 442.5 C188.08 441.53 188.45 441.22 189 441.2 C189.55 441.18 190.13 441.35 190.8 442.4 C191.47 443.45 192.23 445.23 193 447.5 C193.77 449.77 194.75 452.75 195.4 456 C196.05 459.25 196.42 463.2 196.9 467 C197.38 470.8 197.7 475.72 198.3 478.8 C198.9 481.88 199.8 483.57 200.5 485.5 C201.2 487.43 201.83 488.9 202.5 490.4 C203.17 491.9 203.87 493.4 204.5 494.5 C205.13 495.6 205.38 496.42 206.3 497 C207.22 497.58 207.72 497.78 210 498 C212.28 498.22 218.33 498.25 220 498.3" fill="none" stroke="#111" stroke-width="0.9" stroke-linejoin="round"/>
<path d="M135.3 436 L135.3 444.5" fill="none" stroke="#f4f4f4" stroke-width="0.8"/>
<path d="M130.7 300 L130.7 309" fill="none" stroke="#f4f4f4" stroke-width="0.8"/>
<path d="M63.3 487.5 L63.3 475 L64.2 473.6 L65.2 475 L65.9 480 L65.9 487.5 Z" fill="#0c0c0c" stroke="#0c0c0c" stroke-width="0.5" stroke-linejoin="round"/>
<path d="M62.8 498 L62.8 476 L63.6 474 L64.3 475.5 L64.3 481 L65.3 481 L65.3 484.5 L66.8 484.5 L66.8 487.5 L68.2 487.5 L68.2 490.5 L69.6 490.5 L69.6 492.5 L71 492.5 L71 494.2 L73.5 494.2 L73.5 495.6 L76.5 495.6 L76.5 496.8 L82 496.8 L82 497.6 L90 497.6" fill="none" stroke="#111" stroke-width="1.0" stroke-linejoin="miter"/>
<path d="M63.4 498 L63.4 478 L64 476.5" fill="none" stroke="#111" stroke-width="1.0" stroke-linejoin="miter"/>
<path d="M130.6 289 L130.6 287.5" fill="none" stroke="#111" stroke-width="1.0" stroke-linejoin="miter"/>
<path d="M136.4 470 L136.4 451 L139 451 L139 460.5 L140.4 460.5" fill="none" stroke="#111" stroke-width="1.0" stroke-linejoin="miter"/>
<path d="M88 498.2 L89.35 498.2 L89.35 498.29 L90.7 498.29 L90.7 498.34 L92.05 498.34 L92.05 498.45 L93.4 498.45 L93.4 498.29 L94.75 498.29 L94.75 498.44 L96.1 498.44 L96.1 497.72 L97.45 497.72 L97.45 498.07 L98.8 498.07 L98.8 498.45 L100.15 498.45 L100.15 498.22 L101.5 498.22 L101.5 498.42 L102.85 498.42 L102.85 497.79 L104.2 497.79 L104.2 498.08 L105.55 498.08 L105.55 497.9 L106.9 497.9 L106.9 498.14 L108.25 498.14 L108.25 498.16 L109.6 498.16 L109.6 497.71 L110.95 497.71 L110.95 497.87 L112.3 497.87 L112.3 497.92 L113.65 497.92 L113.65 498.43 L115 498.43 L115 498.31 L116.35 498.31 L116.35 497.83 L117.7 497.83 L117.7 498.34 L119.05 498.34 L119.05 497.81 L120.4 497.81" fill="none" stroke="#111" stroke-width="1.0" stroke-linejoin="miter"/>
<path d="M140.4 463.91 L141.75 463.91 L141.75 466.83 L143.1 466.83 L143.1 467.63 L144.45 467.63 L144.45 467.74 L145.8 467.74 L145.8 465.15 L147.15 465.15 L147.15 462.87 L148.5 462.87 L148.5 461.5 L149.85 461.5 L149.85 459.17 L151.2 459.17 L151.2 456.71 L152.55 456.71 L152.55 457.13 L153.9 457.13 L153.9 455.69 L155.25 455.69 L155.25 456.05 L156.6 456.05 L156.6 453.18 L157.95 453.18 L157.95 456.84 L159.3 456.84 L159.3 455.63 L160.65 455.63 L160.65 457.16 L162 457.16 L162 456.88 L163.35 456.88 L163.35 453.88 L164.7 453.88 L164.7 454.59 L166.05 454.59 L166.05 454.7 L167.4 454.7 L167.4 455.87 L168.75 455.87 L168.75 456.48 L170.1 456.48 L170.1 457.37 L171.45 457.37 L171.45 458.26 L172.8 458.26 L172.8 456.99 L174.15 456.99 L174.15 458.78 L175.5 458.78 L175.5 458.06 L176.85 458.06 L176.85 457.6 L178.2 457.6 L178.2 458.42 L179.55 458.42 L179.55 456.12 L180.9 456.12 L180.9 453.55 L182.25 453.55 L182.25 451.39 L183.6 451.39 L183.6 448.55 L184.95 448.55 L184.95 443.66 L186.3 443.66 L186.3 442.8 L187.65 442.8 L187.65 438.79 L189 438.79 L189 440.54 L190.35 440.54 L190.35 441.87 L191.7 441.87 L191.7 442.54 L193.05 442.54 L193.05 447.46 L194.4 447.46 L194.4 451.37 L195.75 451.37 L195.75 457.66 L197.1 457.66 L197.1 465.5 L198.45 465.5 L198.45 475.95 L199.8 475.95 L199.8 482.6 L201.15 482.6 L201.15 488.13 L202.5 488.13 L202.5 489.82 L203.85 489.82 L203.85 493.41 L205.2 493.41 L205.2 495.98 L206.55 495.98 L206.55 497.48 L207.9 497.48 L207.9 497.34 L209.25 497.34" fill="none" stroke="#111" stroke-width="1.0" stroke-linejoin="miter"/>
<path d="M208 497.37 L209.35 497.37 L209.35 497.77 L210.7 497.77 L210.7 498.18 L212.05 498.18 L212.05 497.83 L213.4 497.83 L213.4 498.28 L214.75 498.28 L214.75 498.32 L216.1 498.32 L216.1 498.37 L217.45 498.37 L217.45 497.8 L218.8 497.8 L218.8 498.43 L220.15 498.43 L220.15 497.85 L221.5 497.85 L221.5 498.03 L222.85 498.03 L222.85 498.22 L224.2 498.22 L224.2 498.43 L225.55 498.43 L225.55 498.04 L226.9 498.04 L226.9 498.44 L228.25 498.44 L228.25 498.19 L229.6 498.19 L229.6 498.04 L230.95 498.04 L230.95 498.05 L232.3 498.05 L232.3 497.96 L233.65 497.96 L233.65 497.9 L235 497.9 L235 497.96 L236.35 497.96 L236.35 498.31 L237.7 498.31 L237.7 498.52 L239.05 498.52 L239.05 497.98 L240.4 497.98 L240.4 497.91 L241.75 497.91 L241.75 498.52 L243.1 498.52 L243.1 498.24 L244.45 498.24 L244.45 498.16 L245.8 498.16 L245.8 498.06 L247.15 498.06 L247.15 498.29 L248.5 498.29 L248.5 498.44 L249.85 498.44 L249.85 498.21 L251.2 498.21 L251.2 498.2 L252.55 498.2 L252.55 497.97 L253.9 497.97 L253.9 498.51 L255.25 498.51 L255.25 497.97 L256.6 497.97 L256.6 498.26 L257.95 498.26 L257.95 498.48 L259.3 498.48 L259.3 498.05 L260.65 498.05 L260.65 498.42 L262 498.42 L262 498.56 L263.35 498.56 L263.35 498.37 L264.7 498.37 L264.7 498.47 L266.05 498.47 L266.05 498.06 L267.4 498.06" fill="none" stroke="#111" stroke-width="1.0" stroke-linejoin="miter"/>
<path d="M62.2 285.6 V499.5" stroke="#141414" stroke-width="1.45" fill="none"/>
<path d="M61.6 498.9 H267.5" stroke="#141414" stroke-width="1.45" fill="none"/>
<path d="M62.2 498.9H52.6M62.2 489.22H56.6M62.2 479.54H56.6M62.2 469.86H56.6M62.2 460.18H56.6M62.2 450.5H52.6M62.2 440.82H56.6M62.2 431.14H56.6M62.2 421.46H56.6M62.2 411.78H56.6M62.2 402.1H52.6M62.2 392.42H56.6M62.2 382.74H56.6M62.2 373.06H56.6M62.2 363.38H56.6M62.2 353.7H52.6M62.2 344.02H56.6M62.2 334.34H56.6M62.2 324.66H56.6M62.2 314.98H56.6M62.2 305.3H52.6M62.2 295.62H56.6M62.2 285.94H56.6" stroke="#141414" stroke-width="1.0" fill="none"/>
<path d="M62.2 498.9V505.9M75.67 498.9V502.9M89.14 498.9V502.9M102.61 498.9V502.9M116.08 498.9V502.9M129.55 498.9V505.9M143.02 498.9V502.9M156.49 498.9V502.9M169.96 498.9V502.9M183.43 498.9V502.9M196.9 498.9V505.9M210.37 498.9V502.9M223.84 498.9V502.9M237.31 498.9V502.9M250.78 498.9V502.9M264.25 498.9V505.9" stroke="#141414" stroke-width="1.0" fill="none"/>
<path d="M130.2 500 L124.9 507 L135.5 507 Z" fill="#0a0a0a"/>
<text x="19.8" y="280.3" font-family='"Liberation Sans", sans-serif' font-size="23.3" font-weight="bold" text-anchor="start" textLength="17.9" lengthAdjust="spacingAndGlyphs"  stroke="#000" stroke-width="0.22">C</text>
<text x="83.6" y="279.6" font-family='"Liberation Serif", serif' font-size="17.5" font-weight="normal" text-anchor="start" textLength="92.8" lengthAdjust="spacingAndGlyphs"  stroke="#000" stroke-width="0.22">K562-MERT</text>
<text x="45.4" y="311.5" font-family='"Liberation Serif", serif' font-size="17.2" font-weight="normal" text-anchor="end" textLength="34" lengthAdjust="spacingAndGlyphs"  stroke="#000" stroke-width="0.22">1200</text>
<text x="45.4" y="361" font-family='"Liberation Serif", serif' font-size="17.2" font-weight="normal" text-anchor="end" textLength="25.8" lengthAdjust="spacingAndGlyphs"  stroke="#000" stroke-width="0.22">900</text>
<text x="45.4" y="408.4" font-family='"Liberation Serif", serif' font-size="17.2" font-weight="normal" text-anchor="end" textLength="25.8" lengthAdjust="spacingAndGlyphs"  stroke="#000" stroke-width="0.22">600</text>
<text x="45.4" y="456.5" font-family='"Liberation Serif", serif' font-size="17.2" font-weight="normal" text-anchor="end" textLength="25.8" lengthAdjust="spacingAndGlyphs"  stroke="#000" stroke-width="0.22">300</text>
<text x="48" y="504.2" font-family='"Liberation Serif", serif' font-size="17.9" font-weight="normal" text-anchor="end" textLength="7.8" lengthAdjust="spacingAndGlyphs"  stroke="#000" stroke-width="0.22">0</text>
<text x="61.2" y="520.9" font-family='"Liberation Serif", serif' font-size="17.9" font-weight="normal" text-anchor="middle" textLength="8" lengthAdjust="spacingAndGlyphs"  stroke="#000" stroke-width="0.22">0</text>
<text x="127.3" y="520.9" font-family='"Liberation Serif", serif' font-size="17.9" font-weight="normal" text-anchor="middle" textLength="16.8" lengthAdjust="spacingAndGlyphs"  stroke="#000" stroke-width="0.22">50</text>
<text x="193.8" y="520.9" font-family='"Liberation Serif", serif' font-size="17.9" font-weight="normal" text-anchor="middle" textLength="23.6" lengthAdjust="spacingAndGlyphs"  stroke="#000" stroke-width="0.22">100</text>
<text x="264.4" y="520.9" font-family='"Liberation Serif", serif' font-size="17.9" font-weight="normal" text-anchor="middle" textLength="23.8" lengthAdjust="spacingAndGlyphs"  stroke="#000" stroke-width="0.22">150</text>
<text x="112.5" y="544.5" font-family='"Liberation Serif", serif' font-size="17.5" font-weight="normal" text-anchor="start" textLength="95" lengthAdjust="spacingAndGlyphs"  stroke="#000" stroke-width="0.22">DNA Content</text>
<text transform="translate(15.4 428.6) rotate(-90)" font-family='"Liberation Serif", serif' font-size="17.5" textLength="92" lengthAdjust="spacingAndGlyphs" stroke="#000" stroke-width="0.22">Cell Number</text>
<rect x="139.9" y="297.2" width="103.6" height="55" fill="#fff" stroke="#2a2a2a" stroke-width="1.05"/>
<text x="186.1" y="312.9" font-family='"Liberation Serif", serif' font-size="13.7" font-weight="normal" text-anchor="end"  stroke="#000" stroke-width="0.22">G0-G1:</text>
<text x="228.6" y="312.9" font-family='"Liberation Serif", serif' font-size="13.7" font-weight="normal" text-anchor="end"  stroke="#000" stroke-width="0.22">35.1%</text>
<text x="184" y="329.4" font-family='"Liberation Serif", serif' font-size="13.7" font-weight="normal" text-anchor="end"  stroke="#000" stroke-width="0.22">G2-M:</text>
<text x="228.6" y="329.4" font-family='"Liberation Serif", serif' font-size="13.7" font-weight="normal" text-anchor="end"  stroke="#000" stroke-width="0.22">11.5%</text>
<text x="182.5" y="345.8" font-family='"Liberation Serif", serif' font-size="13.7" font-weight="normal" text-anchor="end"  stroke="#000" stroke-width="0.22">S:</text>
<text x="228.6" y="345.8" font-family='"Liberation Serif", serif' font-size="13.7" font-weight="normal" text-anchor="end"  stroke="#000" stroke-width="0.22">53.4%</text>
<path d="M326.9 468.7 L327.4 470.36 L327.9 472.01 L328.4 473.67 L328.9 475.6 L329.4 477.6 L329.9 479.6 L330.4 481.6 L330.9 483.6 L331.4 485.6 L331.9 487.12 L332.4 488.52 L332.9 489.92 L333.4 490.8 L333.9 491.55 L334.4 492.3 L334.9 493.05 L335.4 493.56 L335.9 494.01 L336.4 494.46 L336.9 494.91 L337.4 495.2 L337.9 495.45 L338.4 495.7 L338.9 495.95 L339.4 496.2 L339.9 496.45 L340.4 496.59 L340.9 496.7 L341.4 496.81 L341.9 496.92 L342.4 497.03 L342.9 497.14 L343.4 497.25 L343.9 497.36 L344.4 497.47 L344.9 497.58 L345.4 497.63 L345.9 497.68 L346.4 497.72 L346.9 497.76 L347.4 497.81 L347.9 497.85 L348.4 497.89 L348.9 497.93 L349.4 497.98 L349.9 498.02 L350.4 498.06 L350.9 498.11 L351.4 498.15 L351.9 498.19 L351.9 498.9 L326.9 498.9 Z" fill="#b8b8b8" stroke="#222" stroke-width="0.7"/>
<path d="M392.9 498.4 L392.9 486.7 L434 486.7 L437 487.4 L439 489 L441 498.4 L441 498.5 L392.9 498.5 Z" fill="#fff" stroke="none"/>
<clipPath id="cp4"><path d="M392.9 498.4 L392.9 486.7 L434 486.7 L437 487.4 L439 489 L441 498.4 L441 498.5 L392.9 498.5 Z"/></clipPath>
<path d="M409.79 458.92L451.07 493.55M406.9 462.36L448.18 497M404.01 465.81L445.28 500.44M401.12 469.26L442.39 503.89M398.22 472.71L439.5 507.34M395.33 476.15L436.61 510.79M392.44 479.6L433.71 514.23M389.55 483.05L430.82 517.68M386.65 486.49L427.93 521.13M383.76 489.94L425.04 524.57" clip-path="url(#cp4)" stroke="#1a1a1a" stroke-width="0.95" fill="none"/>
<path d="M392.9 498.4 L392.9 486.7 L434 486.7 L437 487.4 L439 489 L441 498.4 L441 498.5 L392.9 498.5 Z" fill="none" stroke="#141414" stroke-width="1.1"/>
<path d="M421 498.6 L421.5 498.6 L422 498.6 L422.5 498.6 L423 498.6 L423.5 498.6 L424 498.6 L424.5 498.59 L425 498.59 L425.5 498.59 L426 498.58 L426.5 498.57 L427 498.55 L427.5 498.52 L428 498.48 L428.5 498.43 L429 498.36 L429.5 498.27 L430 498.14 L430.5 497.98 L431 497.77 L431.5 497.52 L432 497.21 L432.5 496.84 L433 496.42 L433.5 495.93 L434 495.4 L434.5 494.83 L435 494.23 L435.5 493.63 L436 493.03 L436.5 492.48 L437 491.98 L437.5 491.57 L438 491.26 L438.5 491.07 L439 491 L439.5 491.07 L440 491.26 L440.5 491.57 L441 491.98 L441.5 492.48 L442 493.03 L442.5 493.63 L443 494.23 L443.5 494.83 L444 495.4 L444.5 495.93 L445 496.42 L445.5 496.84 L446 497.21 L446.5 497.52 L447 497.77 L447.5 497.98 L448 498.14 L448.5 498.27 L449 498.36 L449.5 498.43 L450 498.48 L450.5 498.52 L451 498.55 L451.5 498.57 L452 498.58 L452.5 498.59 L453 498.59 L453.5 498.59 L454 498.6 L454.5 498.6 L455 498.6 L455.5 498.6 L456 498.6 L456.5 498.6 L457 498.6 L457 498.6 L421 498.6 Z" fill="#242424" stroke="#111" stroke-width="0.6"/>
<path d="M376.2 498.4 L378.1 490.4 L379.4 477 L380.7 455 L381 454 L381.8 413.5 L382.5 413 L382.8 359.8 L383.7 359.4 L384 314.2 L384.85 313.8 L385 299.5 L385.45 299 L385.7 289.8 L386.1 289.8 L386.5 299 L387 299.5 L387.2 313.8 L387.7 314.2 L388.2 359.4 L389.1 359.8 L389.3 413 L390.1 413.5 L390.7 454 L391 455 L392.3 477 L392.9 490.4 L393.9 498.4 Z" fill="#242424" stroke="#0c0c0c" stroke-width="0.5" stroke-linejoin="miter"/>
<path d="M379.5 497.8 C380 497.5 381.5 496.88 382.5 496 C383.5 495.12 384.5 493.67 385.5 492.5 C386.5 491.33 387.58 489.87 388.5 489 C389.42 488.13 390.27 487.67 391 487.3 C391.73 486.93 392.58 486.88 392.9 486.8" fill="none" stroke="#777" stroke-width="0.6"/>
<path d="M393.5 486 C394.58 486.03 397.25 486.2 400 486.2 C402.75 486.2 406.67 486.03 410 486 C413.33 485.97 416.67 486.07 420 486 C423.33 485.93 427.67 485.85 430 485.6 C432.33 485.35 432.83 484.93 434 484.5 C435.17 484.07 436.17 483.15 437 483 C437.83 482.85 438.33 483.02 439 483.6 C439.67 484.18 440.33 485.27 441 486.5 C441.67 487.73 442.33 489.58 443 491 C443.67 492.42 444.22 493.9 445 495 C445.78 496.1 446.53 497.07 447.7 497.6 C448.87 498.13 451.28 498.1 452 498.2" fill="none" stroke="#111" stroke-width="0.9" stroke-linejoin="round"/>
<path d="M327.2 470 L327.2 443.5 L327.9 441 L328.7 443.5 L329.5 452 L330 462 L330 470 Z" fill="#0c0c0c" stroke="#0c0c0c" stroke-width="0.5" stroke-linejoin="round"/>
<path d="M327.6 498 L327.6 444 L328.3 441 L329 444 L329 458 L330 458 L330 470 L331 470 L331 478 L332.2 478 L332.2 485 L333.4 485 L333.4 490 L334.8 490 L334.8 493.2 L336.5 493.2 L336.5 495.2 L339 495.2 L339 496.6 L343 496.6 L343 497.5 L350 497.5" fill="none" stroke="#111" stroke-width="1.0" stroke-linejoin="miter"/>
<path d="M328.3 498 L328.3 446" fill="none" stroke="#111" stroke-width="1.0" stroke-linejoin="miter"/>
<path d="M328.9 470 L328.9 446" fill="none" stroke="#111" stroke-width="1.0" stroke-linejoin="miter"/>
<path d="M386 290.2 L386 288.5" fill="none" stroke="#111" stroke-width="1.0" stroke-linejoin="miter"/>
<path d="M350 497.97 L351.19 497.97 L351.19 497.89 L352.38 497.89 L352.38 497.67 L353.57 497.67 L353.57 498.33 L354.76 498.33 L354.76 497.56 L355.95 497.56 L355.95 498 L357.14 498 L357.14 498.36 L358.33 498.36 L358.33 497.62 L359.52 497.62 L359.52 498.05 L360.71 498.05 L360.71 498.1 L361.9 498.1 L361.9 497.59 L363.09 497.59 L363.09 497.89 L364.28 497.89 L364.28 498.18 L365.47 498.18 L365.47 497.96 L366.66 497.96 L366.66 498.2 L367.85 498.2 L367.85 497.69 L369.04 497.69 L369.04 497.76 L370.23 497.76 L370.23 497.65 L371.42 497.65 L371.42 498.01 L372.61 498.01 L372.61 498.38 L373.8 498.38 L373.8 498.08 L374.99 498.08 L374.99 498.25 L376.18 498.25 L376.18 497.33 L377.37 497.33" fill="none" stroke="#111" stroke-width="1.0" stroke-linejoin="miter"/>
<path d="M393.5 485.75 L394.69 485.75 L394.69 484.61 L395.88 484.61 L395.88 484.97 L397.07 484.97 L397.07 485.68 L398.26 485.68 L398.26 485.79 L399.45 485.79 L399.45 485.26 L400.64 485.26 L400.64 484.61 L401.83 484.61 L401.83 484.88 L403.02 484.88 L403.02 484.73 L404.21 484.73 L404.21 484.81 L405.4 484.81 L405.4 485.72 L406.59 485.72 L406.59 484.57 L407.78 484.57 L407.78 485.76 L408.97 485.76 L408.97 485.7 L410.16 485.7 L410.16 484.2 L411.35 484.2 L411.35 484.78 L412.54 484.78 L412.54 484.99 L413.73 484.99 L413.73 484.14 L414.92 484.14 L414.92 484.86 L416.11 484.86 L416.11 485.73 L417.3 485.73 L417.3 484.3 L418.49 484.3 L418.49 485.17 L419.68 485.17 L419.68 484.31 L420.87 484.31 L420.87 485.08 L422.06 485.08 L422.06 485.61 L423.25 485.61 L423.25 484.31 L424.44 484.31 L424.44 483.91 L425.63 483.91 L425.63 484 L426.82 484 L426.82 484.77 L428.01 484.77 L428.01 483.79 L429.2 483.79 L429.2 483.86 L430.39 483.86 L430.39 484.32 L431.58 484.32 L431.58 484.76 L432.77 484.76 L432.77 483.53 L433.96 483.53 L433.96 483.04 L435.15 483.04 L435.15 482.88 L436.34 482.88 L436.34 481.3 L437.53 481.3 L437.53 482.48 L438.72 482.48 L438.72 482.52 L439.91 482.52 L439.91 484.95 L441.1 484.95 L441.1 487.7 L442.29 487.7 L442.29 489.17 L443.48 489.17 L443.48 492.21 L444.67 492.21 L444.67 494.4 L445.86 494.4 L445.86 495.28 L447.05 495.28 L447.05 496.73 L448.24 496.73 L448.24 497.69 L449.43 497.69 L449.43 497.94 L450.62 497.94" fill="none" stroke="#111" stroke-width="1.0" stroke-linejoin="miter"/>
<path d="M450 497.38 L451.19 497.38 L451.19 498.1 L452.38 498.1 L452.38 498.32 L453.57 498.32 L453.57 497.82 L454.76 497.82 L454.76 498.09 L455.95 498.09 L455.95 497.7 L457.14 497.7 L457.14 497.93 L458.33 497.93 L458.33 498.14 L459.52 498.14 L459.52 498.09 L460.71 498.09 L460.71 498.22 L461.9 498.22 L461.9 497.75 L463.09 497.75 L463.09 497.94 L464.28 497.94 L464.28 498.29 L465.47 498.29 L465.47 498.11 L466.66 498.11 L466.66 498.02 L467.85 498.02 L467.85 497.99 L469.04 497.99 L469.04 498.39 L470.23 498.39 L470.23 498.11 L471.42 498.11 L471.42 497.75 L472.61 497.75 L472.61 498.27 L473.8 498.27 L473.8 497.96 L474.99 497.96 L474.99 498.04 L476.18 498.04 L476.18 497.9 L477.37 497.9 L477.37 498.05 L478.56 498.05 L478.56 497.98 L479.75 497.98 L479.75 497.83 L480.94 497.83 L480.94 498.19 L482.13 498.19 L482.13 497.85 L483.32 497.85 L483.32 498.29 L484.51 498.29 L484.51 497.81 L485.7 497.81 L485.7 498.3 L486.89 498.3 L486.89 498.32 L488.08 498.32 L488.08 498.12 L489.27 498.12 L489.27 498.26 L490.46 498.26 L490.46 497.98 L491.65 497.98 L491.65 498.29 L492.84 498.29 L492.84 498.1 L494.03 498.1 L494.03 497.98 L495.22 497.98 L495.22 498.44 L496.41 498.44 L496.41 498.09 L497.6 498.09 L497.6 498.08 L498.79 498.08 L498.79 498.39 L499.98 498.39 L499.98 498.09 L501.17 498.09 L501.17 498.27 L502.36 498.27 L502.36 497.97 L503.55 497.97 L503.55 498.39 L504.74 498.39 L504.74 498.04 L505.93 498.04 L505.93 497.92 L507.12 497.92 L507.12 498.48 L508.31 498.48 L508.31 498 L509.5 498 L509.5 498.47 L510.69 498.47" fill="none" stroke="#111" stroke-width="1.0" stroke-linejoin="miter"/>
<path d="M327.1 281 V499.5" stroke="#141414" stroke-width="1.45" fill="none"/>
<path d="M326.5 498.9 H510.8" stroke="#141414" stroke-width="1.45" fill="none"/>
<path d="M327.1 498.9H319.5M327.1 490.15H323.1M327.1 481.4H323.1M327.1 472.65H323.1M327.1 463.9H323.1M327.1 455.15H319.5M327.1 446.4H323.1M327.1 437.65H323.1M327.1 428.9H323.1M327.1 420.15H323.1M327.1 411.4H319.5M327.1 402.65H323.1M327.1 393.9H323.1M327.1 385.15H323.1M327.1 376.4H323.1M327.1 367.65H319.5M327.1 358.9H323.1M327.1 350.15H323.1M327.1 341.4H323.1M327.1 332.65H323.1M327.1 323.9H319.5M327.1 315.15H323.1M327.1 306.4H323.1M327.1 297.65H323.1M327.1 288.9H323.1" stroke="#141414" stroke-width="1.0" fill="none"/>
<path d="M327.1 498.9V505.4M338.98 498.9V502.5M350.86 498.9V502.5M362.74 498.9V502.5M374.62 498.9V502.5M386.5 498.9V505.4M398.38 498.9V502.5M410.26 498.9V502.5M422.14 498.9V502.5M434.02 498.9V502.5M445.9 498.9V505.4M457.78 498.9V502.5M469.66 498.9V502.5M481.54 498.9V502.5M493.42 498.9V502.5M505.3 498.9V505.4" stroke="#141414" stroke-width="1.0" fill="none"/>
<path d="M386.3 499.3 L381.9 505.5 L390.7 505.5 Z" fill="#0a0a0a"/>
<text x="271.4" y="280.3" font-family='"Liberation Sans", sans-serif' font-size="23.3" font-weight="bold" text-anchor="start" textLength="18" lengthAdjust="spacingAndGlyphs"  stroke="#000" stroke-width="0.22">D</text>
<text x="343.6" y="279.6" font-family='"Liberation Serif", serif' font-size="17.5" font-weight="normal" text-anchor="start" textLength="162.8" lengthAdjust="spacingAndGlyphs"  stroke="#000" stroke-width="0.22">K562-MERT + 4-OHT</text>
<text x="309.3" y="330.1" font-family='"Liberation Serif", serif' font-size="17.9" font-weight="normal" text-anchor="end" textLength="35.6" lengthAdjust="spacingAndGlyphs"  stroke="#000" stroke-width="0.22">2000</text>
<text x="309.3" y="374.1" font-family='"Liberation Serif", serif' font-size="17.9" font-weight="normal" text-anchor="end" textLength="35.6" lengthAdjust="spacingAndGlyphs"  stroke="#000" stroke-width="0.22">1500</text>
<text x="309.3" y="418" font-family='"Liberation Serif", serif' font-size="17.9" font-weight="normal" text-anchor="end" textLength="35.6" lengthAdjust="spacingAndGlyphs"  stroke="#000" stroke-width="0.22">1000</text>
<text x="314.4" y="461.3" font-family='"Liberation Serif", serif' font-size="17.9" font-weight="normal" text-anchor="end" textLength="26.2" lengthAdjust="spacingAndGlyphs"  stroke="#000" stroke-width="0.22">500</text>
<text x="315" y="504.7" font-family='"Liberation Serif", serif' font-size="17.9" font-weight="normal" text-anchor="end" textLength="7.8" lengthAdjust="spacingAndGlyphs"  stroke="#000" stroke-width="0.22">0</text>
<text x="325.4" y="521.3" font-family='"Liberation Serif", serif' font-size="17.9" font-weight="normal" text-anchor="middle" textLength="8" lengthAdjust="spacingAndGlyphs"  stroke="#000" stroke-width="0.22">0</text>
<text x="383.2" y="521.3" font-family='"Liberation Serif", serif' font-size="17.9" font-weight="normal" text-anchor="middle" textLength="16.8" lengthAdjust="spacingAndGlyphs"  stroke="#000" stroke-width="0.22">50</text>
<text x="442" y="521.3" font-family='"Liberation Serif", serif' font-size="17.9" font-weight="normal" text-anchor="middle" textLength="23.6" lengthAdjust="spacingAndGlyphs"  stroke="#000" stroke-width="0.22">100</text>
<text x="501" y="521.3" font-family='"Liberation Serif", serif' font-size="17.9" font-weight="normal" text-anchor="middle" textLength="23.8" lengthAdjust="spacingAndGlyphs"  stroke="#000" stroke-width="0.22">150</text>
<text x="377" y="544.2" font-family='"Liberation Serif", serif' font-size="17.5" font-weight="normal" text-anchor="start" textLength="97.5" lengthAdjust="spacingAndGlyphs"  stroke="#000" stroke-width="0.22">DNA Content</text>
<text transform="translate(265.8 429) rotate(-90)" font-family='"Liberation Serif", serif' font-size="17.5" textLength="90" lengthAdjust="spacingAndGlyphs" stroke="#000" stroke-width="0.22">Cell Number</text>
<rect x="402.4" y="301.2" width="102.4" height="54" fill="#fff" stroke="#2a2a2a" stroke-width="1.05"/>
<text x="448.6" y="316.3" font-family='"Liberation Serif", serif' font-size="13.7" font-weight="normal" text-anchor="end"  stroke="#000" stroke-width="0.22">G0-G1:</text>
<text x="491.1" y="316.3" font-family='"Liberation Serif", serif' font-size="13.7" font-weight="normal" text-anchor="end"  stroke="#000" stroke-width="0.22">62.9%</text>
<text x="446.5" y="332.8" font-family='"Liberation Serif", serif' font-size="13.7" font-weight="normal" text-anchor="end"  stroke="#000" stroke-width="0.22">G2-M:</text>
<text x="491.1" y="332.8" font-family='"Liberation Serif", serif' font-size="13.7" font-weight="normal" text-anchor="end"  stroke="#000" stroke-width="0.22">4.1%</text>
<text x="445" y="349.2" font-family='"Liberation Serif", serif' font-size="13.7" font-weight="normal" text-anchor="end"  stroke="#000" stroke-width="0.22">S:</text>
<text x="491.1" y="349.2" font-family='"Liberation Serif", serif' font-size="13.7" font-weight="normal" text-anchor="end"  stroke="#000" stroke-width="0.22">33.0%</text>
</svg></body></html>
